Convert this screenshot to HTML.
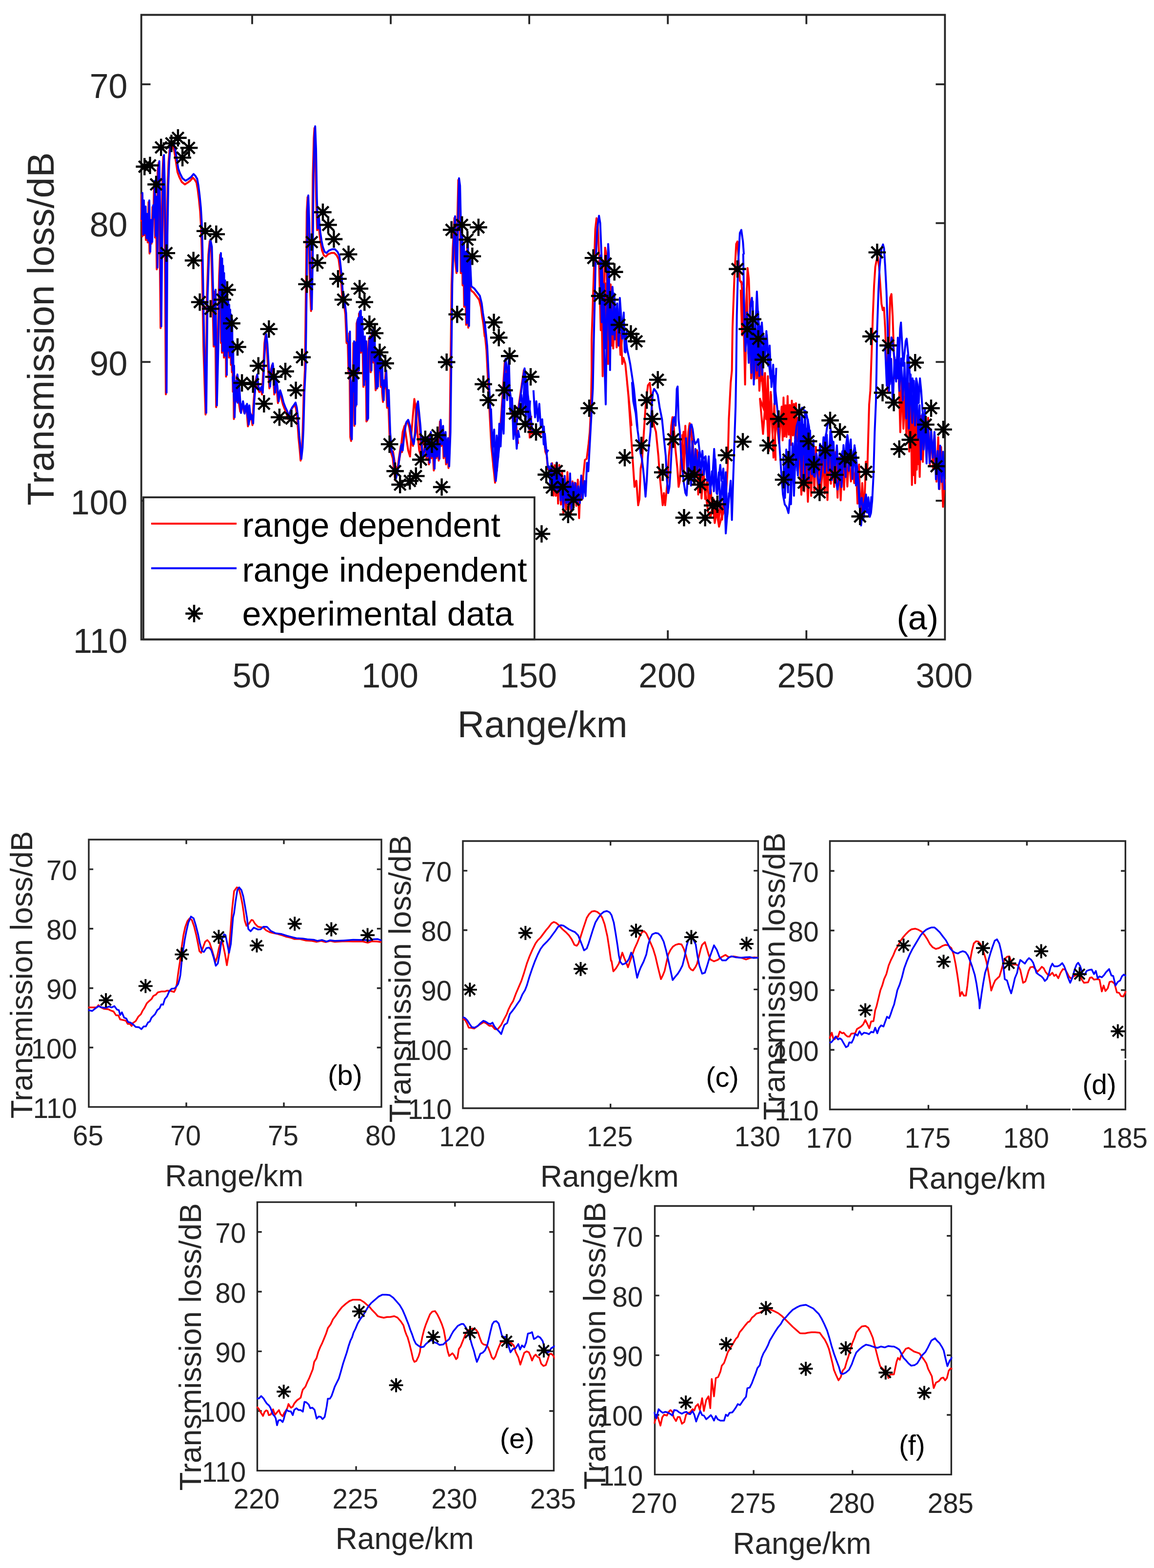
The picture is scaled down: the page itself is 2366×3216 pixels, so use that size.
<!DOCTYPE html><html><head><meta charset="utf-8"><title>Transmission loss</title>
<style>html,body{margin:0;padding:0;background:#fff;}svg{display:block;}text{font-family:"Liberation Sans", Arial, Helvetica, sans-serif;}</style></head><body>
<svg xmlns="http://www.w3.org/2000/svg" width="2366" height="3216" viewBox="0 0 2366 3216">
<rect width="2366" height="3216" fill="#fff"/>
<path d="M289.7 30.5H1937.4V1311.7H289.7ZM289.7 172.9h17M1937.4 172.9h-17M289.7 457.6h17M1937.4 457.6h-17M289.7 742.3h17M1937.4 742.3h-17M289.7 1027h17M1937.4 1027h-17M517 1311.7v-17M517 30.5v17M801.1 1311.7v-17M801.1 30.5v17M1085.1 1311.7v-17M1085.1 30.5v17M1369.2 1311.7v-17M1369.2 30.5v17M1653.3 1311.7v-17M1653.3 30.5v17" fill="none" stroke="#262626" stroke-width="3.8" stroke-linejoin="miter" stroke-linecap="square"/>
<text x="261.5" y="200.5" font-size="70" text-anchor="end" fill="#262626">70</text>
<text x="261.5" y="485.2" font-size="70" text-anchor="end" fill="#262626">80</text>
<text x="261.5" y="769.9" font-size="70" text-anchor="end" fill="#262626">90</text>
<text x="261.5" y="1054.6" font-size="70" text-anchor="end" fill="#262626">100</text>
<text x="261.5" y="1339.4" font-size="70" text-anchor="end" fill="#262626">110</text>
<text x="515.5" y="1409.5" font-size="70" text-anchor="middle" fill="#262626">50</text>
<text x="799.6" y="1409.5" font-size="70" text-anchor="middle" fill="#262626">100</text>
<text x="1083.6" y="1409.5" font-size="70" text-anchor="middle" fill="#262626">150</text>
<text x="1367.7" y="1409.5" font-size="70" text-anchor="middle" fill="#262626">200</text>
<text x="1651.8" y="1409.5" font-size="70" text-anchor="middle" fill="#262626">250</text>
<text x="1935.9" y="1409.5" font-size="70" text-anchor="middle" fill="#262626">300</text>
<text x="1112.2" y="1512.2" font-size="76.5" text-anchor="middle" fill="#262626">Range/km</text>
<text transform="translate(110 1036.7) rotate(-90)" font-size="76.5" fill="#262626">Transmission loss/dB</text>
<text x="1838.4" y="1291.4" font-size="70" fill="#000">(a)</text>
<path d="M182 1722H782V2270.4H182ZM182 1782.9h7.5M782 1782.9h-7.5M182 1904.8h7.5M782 1904.8h-7.5M182 2026.7h7.5M782 2026.7h-7.5M182 2148.5h7.5M782 2148.5h-7.5M382 2270.4v-7.5M382 1722v7.5M582 2270.4v-7.5M582 1722v7.5" fill="none" stroke="#262626" stroke-width="3.4" stroke-linejoin="miter" stroke-linecap="square"/>
<text x="157.9" y="1805.3" font-size="56.5" text-anchor="end" fill="#262626">70</text>
<text x="157.9" y="1927.1" font-size="56.5" text-anchor="end" fill="#262626">80</text>
<text x="157.9" y="2049" font-size="56.5" text-anchor="end" fill="#262626">90</text>
<text x="157.9" y="2170.9" font-size="56.5" text-anchor="end" fill="#262626">100</text>
<text x="157.9" y="2292.7" font-size="56.5" text-anchor="end" fill="#262626">110</text>
<text x="180.5" y="2348.7" font-size="56.5" text-anchor="middle" fill="#262626">65</text>
<text x="380.5" y="2348.7" font-size="56.5" text-anchor="middle" fill="#262626">70</text>
<text x="580.5" y="2348.7" font-size="56.5" text-anchor="middle" fill="#262626">75</text>
<text x="780.5" y="2348.7" font-size="56.5" text-anchor="middle" fill="#262626">80</text>
<text x="480.2" y="2433" font-size="62.3" text-anchor="middle" fill="#262626">Range/km</text>
<text transform="translate(65.9 2294.2) rotate(-90)" font-size="62.3" fill="#262626">Transmission loss/dB</text>
<text x="672" y="2224.6" font-size="58" fill="#000">(b)</text>
<path d="M949 1725H1554.4V2273H949ZM949 1785.9h7.5M1554.4 1785.9h-7.5M949 1907.7h7.5M1554.4 1907.7h-7.5M949 2029.4h7.5M1554.4 2029.4h-7.5M949 2151.2h7.5M1554.4 2151.2h-7.5M1251.7 2273v-7.5M1251.7 1725v7.5" fill="none" stroke="#262626" stroke-width="3.4" stroke-linejoin="miter" stroke-linecap="square"/>
<text x="926.1" y="1808.2" font-size="56.5" text-anchor="end" fill="#262626">70</text>
<text x="926.1" y="1930" font-size="56.5" text-anchor="end" fill="#262626">80</text>
<text x="926.1" y="2051.8" font-size="56.5" text-anchor="end" fill="#262626">90</text>
<text x="926.1" y="2173.5" font-size="56.5" text-anchor="end" fill="#262626">100</text>
<text x="926.1" y="2295.3" font-size="56.5" text-anchor="end" fill="#262626">110</text>
<text x="947.5" y="2351" font-size="56.5" text-anchor="middle" fill="#262626">120</text>
<text x="1250.2" y="2351" font-size="56.5" text-anchor="middle" fill="#262626">125</text>
<text x="1552.9" y="2351" font-size="56.5" text-anchor="middle" fill="#262626">130</text>
<text x="1249.7" y="2434" font-size="62.3" text-anchor="middle" fill="#262626">Range/km</text>
<text transform="translate(841.9 2302.4) rotate(-90)" font-size="62.3" fill="#262626">Transmission loss/dB</text>
<text x="1447.2" y="2229.4" font-size="58" fill="#000">(c)</text>
<path d="M1701.5 1725H2307.4V2275.5H1701.5ZM1701.5 1786.2h7.5M2307.4 1786.2h-7.5M1701.5 1908.5h7.5M2307.4 1908.5h-7.5M1701.5 2030.8h7.5M2307.4 2030.8h-7.5M1701.5 2153.2h7.5M2307.4 2153.2h-7.5M1903.5 2275.5v-7.5M1903.5 1725v7.5M2105.4 2275.5v-7.5M2105.4 1725v7.5" fill="none" stroke="#262626" stroke-width="3.4" stroke-linejoin="miter" stroke-linecap="square"/>
<text x="1678.7" y="1808.5" font-size="56.5" text-anchor="end" fill="#262626">70</text>
<text x="1678.7" y="1930.8" font-size="56.5" text-anchor="end" fill="#262626">80</text>
<text x="1678.7" y="2053.2" font-size="56.5" text-anchor="end" fill="#262626">90</text>
<text x="1678.7" y="2175.5" font-size="56.5" text-anchor="end" fill="#262626">100</text>
<text x="1678.7" y="2297.8" font-size="56.5" text-anchor="end" fill="#262626">110</text>
<text x="1700" y="2353.5" font-size="56.5" text-anchor="middle" fill="#262626">170</text>
<text x="1902" y="2353.5" font-size="56.5" text-anchor="middle" fill="#262626">175</text>
<text x="2103.9" y="2353.5" font-size="56.5" text-anchor="middle" fill="#262626">180</text>
<text x="2305.9" y="2353.5" font-size="56.5" text-anchor="middle" fill="#262626">185</text>
<text x="2003" y="2437.9" font-size="62.3" text-anchor="middle" fill="#262626">Range/km</text>
<text transform="translate(1609 2297.5) rotate(-90)" font-size="62.3" fill="#262626">Transmission loss/dB</text>
<text x="2219.2" y="2244" font-size="57" fill="#000">(d)</text>
<path d="M527.5 2465.6H1135.4V3016.4H527.5ZM527.5 2526.8h7.5M1135.4 2526.8h-7.5M527.5 2649.2h7.5M1135.4 2649.2h-7.5M527.5 2771.6h7.5M1135.4 2771.6h-7.5M527.5 2894h7.5M1135.4 2894h-7.5M730.1 3016.4v-7.5M730.1 2465.6v7.5M932.8 3016.4v-7.5M932.8 2465.6v7.5" fill="none" stroke="#262626" stroke-width="3.4" stroke-linejoin="miter" stroke-linecap="square"/>
<text x="504.1" y="2549.1" font-size="56.5" text-anchor="end" fill="#262626">70</text>
<text x="504.1" y="2671.5" font-size="56.5" text-anchor="end" fill="#262626">80</text>
<text x="504.1" y="2793.9" font-size="56.5" text-anchor="end" fill="#262626">90</text>
<text x="504.1" y="2916.3" font-size="56.5" text-anchor="end" fill="#262626">100</text>
<text x="504.1" y="3038.7" font-size="56.5" text-anchor="end" fill="#262626">110</text>
<text x="526" y="3094.4" font-size="56.5" text-anchor="middle" fill="#262626">220</text>
<text x="728.6" y="3094.4" font-size="56.5" text-anchor="middle" fill="#262626">225</text>
<text x="931.3" y="3094.4" font-size="56.5" text-anchor="middle" fill="#262626">230</text>
<text x="1133.9" y="3094.4" font-size="56.5" text-anchor="middle" fill="#262626">235</text>
<text x="829.8" y="3177" font-size="62.3" text-anchor="middle" fill="#262626">Range/km</text>
<text transform="translate(412 3057.5) rotate(-90)" font-size="62.3" fill="#262626">Transmission loss/dB</text>
<text x="1024.7" y="2970.4" font-size="58" fill="#000">(e)</text>
<path d="M1342.5 2473.5H1950.4V3024.4H1342.5ZM1342.5 2534.7h7.5M1950.4 2534.7h-7.5M1342.5 2657.1h7.5M1950.4 2657.1h-7.5M1342.5 2779.6h7.5M1950.4 2779.6h-7.5M1342.5 2902h7.5M1950.4 2902h-7.5M1545.1 3024.4v-7.5M1545.1 2473.5v7.5M1747.8 3024.4v-7.5M1747.8 2473.5v7.5" fill="none" stroke="#262626" stroke-width="3.4" stroke-linejoin="miter" stroke-linecap="square"/>
<text x="1318.2" y="2557" font-size="56.5" text-anchor="end" fill="#262626">70</text>
<text x="1318.2" y="2679.5" font-size="56.5" text-anchor="end" fill="#262626">80</text>
<text x="1318.2" y="2801.9" font-size="56.5" text-anchor="end" fill="#262626">90</text>
<text x="1318.2" y="2924.3" font-size="56.5" text-anchor="end" fill="#262626">100</text>
<text x="1318.2" y="3046.7" font-size="56.5" text-anchor="end" fill="#262626">110</text>
<text x="1341" y="3103.4" font-size="56.5" text-anchor="middle" fill="#262626">270</text>
<text x="1543.6" y="3103.4" font-size="56.5" text-anchor="middle" fill="#262626">275</text>
<text x="1746.3" y="3103.4" font-size="56.5" text-anchor="middle" fill="#262626">280</text>
<text x="1948.9" y="3103.4" font-size="56.5" text-anchor="middle" fill="#262626">285</text>
<text x="1644.4" y="3187.2" font-size="62.3" text-anchor="middle" fill="#262626">Range/km</text>
<text transform="translate(1241 3055.2) rotate(-90)" font-size="62.3" fill="#262626">Transmission loss/dB</text>
<text x="1842.9" y="2983.6" font-size="57" fill="#000">(f)</text>
<rect x="2194.9" y="2272" width="3.2" height="7" fill="#fff"/>
<rect x="2304" y="2170.9" width="6" height="3.3" fill="#fff"/>
<clipPath id="clipa"><rect x="287.7" y="28.5" width="1651.7" height="1285.2"/></clipPath>
<polyline clip-path="url(#clipa)" points="289.3,454.5 290.5,399.3 292,484.7 293.5,414.4 295.3,482.2 297,426.9 299.1,492.2 301.1,442 302.8,497.3 304.6,414.4 306.6,519.9 308.6,454.5 310.6,499.8 312.6,424.4 314.4,449.5 316.1,374.2 317.9,487.2 319.6,406.8 321.4,552.5 323.2,351.6 325.2,334 326.9,454.5 329.2,673.1 331.2,484.7 333,359.1 334.7,321.4 336.5,389.2 338.2,534.9 340,808.7 341.8,484.7 343.5,384.2 345.5,334 347.5,308.9 350,300.1 353.8,295.2 357.6,311.6 361.3,335.5 363.9,353 367.6,363.1 372.6,373.1 378.9,378.2 385.2,374.4 390.2,370.6 395.3,364.4 399,368.1 402.8,374.4 405.3,388.2 407.8,408.3 410.3,433.4 412.1,463.6 413.6,513.1 415.4,612.4 417.1,711.7 421.4,850.2 424.1,610.3 427.2,522.4 429.9,494.7 432.9,509.8 435.4,597.7 438,710.8 440.5,597.7 443.2,835.1 446.8,685.6 449.3,565.1 451.3,522.4 451.5,523.5 453,703.5 454,533.5 455,723.5 456,548.5 457,693.5 458,563.5 459,733.5 460,578.5 461,703.5 462,593.5 463.5,772.5 464.5,603.5 465.5,723.5 466.5,618.5 467.5,703.5 468.5,628.5 469.5,733.5 470.5,638.5 471.5,713.5 472.5,648.5 473.5,748.5 474.5,658.5 475.5,763.5 476.5,703.5 477.5,803.5 478.5,753.5 479.5,859.5 481.4,804.1 483.2,824.2 485.2,771.4 486.9,784 489.5,824.2 492.5,844.3 494.5,834.2 497,829.2 500.8,846.8 505,831.7 508.3,874.4 512.1,851.8 515.8,859.3 517.6,871.9 519.6,829.2 522.6,791.5 525.9,771.4 528.4,796.5 531.7,804.1 534.7,796.5 537.2,809.1 539.7,758.9 542.2,703.6 544.2,688.5 546.7,708.6 549.7,758.9 552.3,796.5 555.3,758.9 557.8,748.8 560.3,771.4 562.3,809.1 564.8,779 567.3,796.5 569.8,826.7 572.9,804.1 576.1,814.1 579.9,829.2 583.7,839.2 587.4,846.8 589.9,859.3 593.7,846.8 597.5,839.2 601.2,834.2 604.5,829.2 607,839.2 609.5,859.3 612,897 614.5,922.1 616.3,944.7 618.8,922.1 620.6,884.5 622.6,809.1 625.1,758.9 626.4,660.5 627.6,560.1 628.9,434.5 630.6,404.3 632.6,459.6 634.6,560.1 637.7,637.9 639.7,534.9 641.4,359.1 643.4,283.7 644.7,262.4 646.5,308.9 648.2,409.3 650.2,472.1 652.2,447 655.2,480.8 657.8,500.1 660.3,513.8 664,523.9 667.8,526.4 672.8,521.3 679.1,518.8 685.4,518.8 690.4,523.9 694.2,531.4 696.7,550 699.2,573.5 701.7,610.3 703.1,605.5 708.1,645.5 710.5,703.5 713.1,705.5 714.5,763.5 716,683.5 718.2,896.5 719.9,904.5 721.5,783.5 723.2,806.5 724.5,703.5 726.5,873.5 728.2,705.5 729.5,833.5 731.2,663.5 733.2,655.5 734.5,763.5 736,643.5 738.3,640.5 739.5,723.5 741,653.5 743.3,705.5 745,793.5 746.5,693.5 748.3,781.5 749.5,703.5 751.3,864.5 753.3,861.5 754.5,723.5 756.5,693.5 758.4,705.5 760,763.5 761.5,683.5 763.4,680.5 765,743.5 766.5,693.5 768.4,756.5 770.1,800.5 771.5,723.5 773.4,796.5 775,733.5 776.5,763.5 778.5,731.5 780.5,793.5 782,743.5 783.5,806.5 785.2,824.5 786.5,783.5 788.5,796.5 790.5,763.5 793.6,836.5 795.5,803.5 798.6,891.5 801.5,927.3 805.3,939.8 806.5,952.4 810.3,985 814,970 817.8,939.8 821.6,914.7 824.1,927.3 827.9,889.6 831.6,869.5 835.4,864.5 839.2,877 842.9,902.1 846.7,914.7 850.5,889.6 853,839.3 855.5,826.8 858,851.9 860.5,877 863,914.7 865.5,939.8 869.3,927.3 871.8,902.1 874.3,939.8 876.8,902.1 879.4,952.4 881.9,889.6 884.4,939.8 886.9,914.7 889.4,964.9 891.9,902.1 894.4,939.8 896.9,914.7 899.5,944.8 902,864.5 904.5,914.7 907,877 909.5,939.8 912,889.6 914.5,952.4 917,902.1 919.5,959.9 922.1,889.6 923.3,789.1 924.6,688.6 925.8,585.2 928.3,509.8 929.6,484.7 931.6,447 933.4,534.9 935.9,560.1 937.6,459.6 939.6,369.1 941.7,384.2 943.4,459.6 944.7,560.1 945.9,484.7 947.2,509.8 948.4,585.2 949.7,534.9 949.7,501.8 951.6,629.2 953.5,519.7 955.7,666.2 957.9,501.6 960.1,672.1 962,530 964.8,593.4 967.3,597.2 971,599.7 974.8,604.7 978.6,609.8 982.3,614.8 986.1,629.9 988.6,650 991.1,665 993.7,690.1 992.4,668 997.4,718.2 999.9,768.5 1002.4,818.7 1007.5,917 1015,990.1 1025.1,889.6 1035.1,738.9 1055.2,889.6 1074,759 1090.4,889.6 1110.5,889.6" fill="none" stroke="#ff0000" stroke-width="4" stroke-linejoin="round"/>
<polyline clip-path="url(#clipa)" points="1115,889 1118,926 1120.9,934 1123.2,962.4 1126.2,961.6 1129.3,996.4 1132,949.9 1134.9,1016.6 1137.2,954.1 1139.6,1017 1141.8,949.5 1144.2,1032.9 1146.8,953.6 1150,1034.8 1152.4,965.6 1155,1052.9 1157.3,991.4 1160.6,1045.2 1163.4,968.3 1165.7,1045.3 1168.2,993.4 1170.6,1052.3 1173.8,987.2 1176.2,1038.1 1178.5,989.9 1181.7,1037.5 1184.7,983.7 1187.3,1062.8 1190.4,987.1 1193.5,1024.6 1195.9,975.8 1199.2,943.4 1202.9,940.9 1206.7,910.7 1209.2,885.6 1211.7,835.4 1213,760 1213,696.3 1215.5,621 1218,545.6 1220.5,470.2 1223,447.6 1225.5,457.7 1228.1,520.5 1230.6,545.6 1233.1,595.8 1235.6,771.7 1238.1,621 1240.6,507.9 1243.1,520.5 1245.6,646.1 1246.9,746.6 1249.4,595.8 1251.9,583.3 1254.4,708.9 1256.9,646.1 1260.7,671.2 1264.5,658.6 1268.3,671.2 1270.8,708.9 1273.3,683.8 1275.8,746.6 1278.3,734 1282.1,746.6 1284.6,771.7 1287.1,796.8 1289.6,821.9 1292.1,847 1294.6,872.1 1285.8,785.1 1288.3,810.2 1290.9,847.9 1293.4,885.6 1295.9,923.3 1298.4,961 1300.9,998.6 1304.7,986.1 1308.4,1036.3 1311,1023.8 1313.5,961 1316,948.4 1318.5,910.7 1321,873 1323.5,835.4 1326,810.2 1328.5,790.1 1332.3,785.1 1334.8,810.2 1337.3,847.9 1341.1,873 1344.9,885.6 1347.4,910.7 1349.9,935.8 1352.4,973.5 1354.9,998.6 1358.7,1036.3 1361.2,1011.2 1363.7,1036.3 1366.2,1011.2 1368.7,986.1 1371.2,935.8 1373.8,910.7 1376.3,873 1378.8,855.5 1381.3,873 1383.8,910.7 1386.3,935.8 1388.8,961 1391.3,998.6 1393.8,986.1 1396.4,935.8 1398.9,910.7 1401.4,885.6 1403.9,898.2 1406.4,923.3 1408.9,935.8 1411.4,885.6 1413.9,868 1416.5,873 1419,910.7 1421.5,935.8 1424,961 1426.5,935.8 1429,923.3 1431.5,935.8 1434,948.4 1436.6,961 1439.1,973.5 1441.6,986.1 1446.6,1011.2 1451.6,1048.9 1456.6,1061.4 1461.7,1036.3 1465.4,1072.7 1469.2,1048.9 1474.2,1080.3 1479.3,1061.4 1484.3,1048.9 1488,1023.8 1491.8,961 1494.3,860.5 1498.1,785.1 1500.6,760 1501.9,671.2 1505.6,570.7 1509.4,500.4 1511.9,495.4 1514.4,533 1516.9,575.7 1522,583.3 1520,577.6 1522.5,610.7 1525.1,674.3 1527.6,788.7 1530.2,623.4 1532.7,549.7 1535.3,572.6 1537.8,648.8 1540.3,776 1542.9,750.5 1545.4,674.3 1549.2,737.8 1551.8,776 1554.3,712.4 1556.9,801.4 1559.4,763.2 1562,776 1564.5,801.4 1567,826.8 1570.9,852.2 1558.1,817.9 1564.4,890 1570.5,806.9 1576.2,925.1 1580.7,809.2 1585.8,938.6 1591.8,857.7 1597.3,909.8 1602.6,833.9 1604.6,903.2 1606.4,815.2 1608.2,894.9 1610.5,831.2 1612.5,896.2 1614.8,812.2 1617,891.4 1619.2,830.4 1621.3,912.7 1623.5,821.8 1625.8,892.9 1627.8,828.4 1630.2,900.2 1631.9,826.9 1633.7,905 1636,857.1 1639.5,942.5 1643,1014.7 1646.4,928.5 1649,1007.7 1652.6,937.2 1656.4,1029.2 1660.2,940 1663.1,1017.1 1666.2,917.5 1669.6,1009.6 1672.8,916.7 1676.6,1003.7 1679.9,933.4 1683.7,1003.7 1687.6,936.6 1690.9,1012.2 1693.6,938.4 1696.5,1025.6 1700.2,921.5 1703.5,992.2 1706.8,926.8 1710.2,998.8 1713.9,926.7 1717.2,1020.8 1720.3,938.5 1723.6,1026.2 1727.2,941.2 1730.5,1004.4 1733.8,928.3 1737.3,997.9 1740.7,933.7 1744.6,987.6 1748.4,951.4 1751.4,990.9 1755.2,958.4 1758.1,1032.8 1761.3,952.7 1764.3,1069.1 1767.8,990.7 1771.6,1058.7 1775.2,946.8 1778,972.3 1782,829.9 1784.4,801.4 1787,725.1 1789.5,648.8 1792.1,585.3 1794.6,547.1 1797.1,534.4 1799.7,526.8 1802.2,547.1 1804.8,585.3 1807.3,623.4 1809.9,636.1 1812.4,631 1814.9,674.3 1817.5,750.5 1820,801.4 1822.6,699.7 1825.1,610.7 1827.7,603.1 1830.2,648.8 1832.7,725.1 1835.3,776 1837.8,750.5 1840.4,725.1 1842.9,776 1845.5,826.8 1848,801.4 1850.5,839.5 1853.1,814.1 1855.6,852.2 1858.2,826.8 1860.7,865 1863.2,880 1863.2,786.4 1866.5,888.9 1870.3,816.3 1873.5,974.4 1876.6,844.6 1879.7,963.4 1882.3,844.6 1885.6,978.1 1888.6,853.1 1892,947.3 1895.9,867.5 1899.8,938.4 1902.8,856.8 1906.5,955.3 1909.3,884.1 1913.2,960.7 1916.2,892 1920,987.8 1923.6,896.7 1926.3,1003.3 1929.5,916.8 1933.4,1039.5 1937.1,983.4" fill="none" stroke="#ff0000" stroke-width="4" stroke-linejoin="round"/>
<polyline clip-path="url(#clipa)" points="1518.7,594.3 1521.5,687.6 1524.8,599.1 1528.2,747.3 1531,591.5 1534.4,725.1 1537.7,672.3 1540.3,776.3 1543.3,689.5 1547,777.7 1549.8,675.9 1552.9,758.8 1555.7,707.8 1559.1,781.4 1562.5,729.6 1565.4,830.2 1568.4,764.9 1571,859.7 1574.4,771.6 1577,896.9 1580.2,803.8 1583.9,889.5 1587.6,827.4 1590.2,944.9" fill="none" stroke="#ff0000" stroke-width="4" stroke-linejoin="round"/>
<polyline clip-path="url(#clipa)" points="1842.8,770.3 1845.8,886.4 1848.8,780.2 1852.2,879.3 1855.7,799.8 1858.4,894.8 1861.2,807.3 1864.2,926.1 1866.9,798.3 1869.7,994.7 1873.3,839.6 1876.2,991.2 1880,845.1 1882.7,952 1886,884.3" fill="none" stroke="#ff0000" stroke-width="4" stroke-linejoin="round"/>
<polyline clip-path="url(#clipa)" points="1008.1,893 1011.9,961.4 1015.7,920.1 1018.8,965.8 1021.7,908.2" fill="none" stroke="#ff0000" stroke-width="4" stroke-linejoin="round"/>
<polyline clip-path="url(#clipa)" points="1052.3,851.4 1055.4,885.9 1058.7,874.8 1062.3,910.4" fill="none" stroke="#ff0000" stroke-width="4" stroke-linejoin="round"/>
<polyline clip-path="url(#clipa)" points="1082.6,821.6 1086.1,897.6 1089.2,852.8" fill="none" stroke="#ff0000" stroke-width="4" stroke-linejoin="round"/>
<polyline clip-path="url(#clipa)" points="1228.1,533.9 1231.7,677.2 1234.8,543.9 1238.1,714.7 1241.2,581.2 1244.3,699.1 1247.8,579.9 1250.8,712.9 1254.4,622.1 1257.3,714.7 1261.1,637.1 1264.3,712.6 1268.5,661.2 1272.1,727.9 1275.5,693.3" fill="none" stroke="#ff0000" stroke-width="4" stroke-linejoin="round"/>
<polyline clip-path="url(#clipa)" points="1398.9,890.6 1402,971.4 1405.1,873.3 1409.1,973.2 1413.1,893.9 1417.2,980.2 1420.2,899.9 1423.8,988.2 1427.9,925.4 1431.6,1014.3 1435.1,948.6 1438.3,1022.4 1442.4,963.3 1445.9,1023.6 1450.1,980.7 1453.1,1032 1457.3,1002.6 1460.2,1046.6 1463.5,1024 1467.2,1055.4 1470.3,1026.5 1473.4,1069 1477.4,1029.6 1480.5,1065.8 1483.8,1021.1" fill="none" stroke="#ff0000" stroke-width="4" stroke-linejoin="round"/>
<polyline clip-path="url(#clipa)" points="805.5,923.8 810.5,956.4 815.5,961.4 820.6,931.3 825.6,886.1 829.4,873.5 833.1,898.6 836.9,923.8 840.7,936.3 843.7,886.1 846.9,848.4 849.5,818.3 852,835.8 855.7,886.1 859.5,923.8 863.3,936.3 867,898.6 870.8,911.2" fill="none" stroke="#ff0000" stroke-width="4" stroke-linejoin="round"/>
<polyline clip-path="url(#clipa)" points="290.8,451 292,395.8 293.5,481.2 295,410.9 296.8,478.7 298.5,423.4 300.6,488.7 302.6,438.5 304.3,493.8 306.1,410.9 308.1,516.4 310.1,451 312.1,496.3 314.1,420.9 315.9,446 317.6,370.7 319.4,483.7 321.1,403.3 322.9,549 324.7,348.1 326.7,330.5 328.4,451 330.7,669.6 332.7,481.2 334.5,355.6 336.2,317.9 338,385.7 339.7,531.4 341.5,805.2 343.3,481.2 345,380.7 347,330.5 349,305.4 351.5,296.6 355.3,291.5 359.1,305.4 362.8,328 365.4,345.5 369.1,355.6 374.1,365.6 380.4,370.7 386.7,366.9 391.7,363.1 396.8,356.9 400.5,360.6 404.3,366.9 406.8,380.7 409.3,400.8 411.8,425.9 413.6,456.1 415.1,506.3 416.9,606.8 418.6,707.3 422.9,846.7 425.6,606.8 428.7,518.9 431.4,491.2 434.4,506.3 436.9,594.2 439.5,707.3 442,594.2 444.7,831.6 448.3,682.1 450.8,561.6 452.8,518.9 453,520 454.5,700 455.5,530 456.5,720 457.5,545 458.5,690 459.5,560 460.5,730 461.5,575 462.5,700 463.5,590 465,769 466,600 467,720 468,615 469,700 470,625 471,730 472,635 473,710 474,645 475,745 476,655 477,760 478,700 479,800 480,750 481,856 482.9,800.6 484.7,820.7 486.7,767.9 488.4,780.5 491,820.7 494,840.8 496,830.7 498.5,825.7 502.3,843.3 506.5,828.2 509.8,870.9 513.6,848.3 517.3,855.8 519.1,868.4 521.1,825.7 524.1,788 527.4,767.9 529.9,793 533.2,800.6 536.2,793 538.7,805.6 541.2,755.4 543.7,700.1 545.7,685 548.2,705.1 551.2,755.4 553.8,793 556.8,755.4 559.3,745.3 561.8,767.9 563.8,805.6 566.3,775.5 568.8,793 571.3,823.2 574.4,800.6 577.6,810.6 581.4,825.7 585.2,835.7 588.9,843.3 591.4,855.8 595.2,843.3 599,835.7 602.7,830.7 606,825.7 608.5,835.7 611,855.8 613.5,893.5 616,918.6 617.8,941.2 620.3,918.6 622.1,881 624.1,805.6 626.6,755.4 627.9,657 629.1,556.6 630.4,431 632.1,400.8 634.1,456.1 636.1,556.6 639.2,634.4 641.2,531.4 642.9,355.6 644.9,280.2 646.2,258.9 648,305.4 649.7,405.8 651.7,468.6 653.7,443.5 656.7,476.2 659.3,493.8 661.8,506.3 665.5,516.4 669.3,518.9 674.3,513.8 680.6,511.3 686.9,511.3 691.9,516.4 695.7,523.9 698.2,544 700.7,569.1 703.2,606.8 704.6,602 709.6,642 712,700 714.6,702 716,760 717.5,680 719.7,893 721.4,901 723,780 724.7,803 726,700 728,870 729.7,702 731,830 732.7,660 734.7,652 736,760 737.5,640 739.8,637 741,720 742.5,650 744.8,702 746.5,790 748,690 749.8,778 751,700 752.8,861 754.8,858 756,720 758,690 759.9,702 761.5,760 763,680 764.9,677 766.5,740 768,690 769.9,753 771.6,797 773,720 774.9,793 776.5,730 778,760 780,728 782,790 783.5,740 785,803 786.7,821 788,780 790,793 792,760 795.1,833 797,800 800.1,888 803,923.8 806.8,936.3 808,948.9 811.8,981.5 815.5,966.5 819.3,936.3 823.1,911.2 825.6,923.8 829.4,886.1 833.1,866 836.9,861 840.7,873.5 844.4,898.6 848.2,911.2 852,886.1 854.5,835.8 857,823.3 859.5,848.4 862,873.5 864.5,911.2 867,936.3 870.8,923.8 873.3,898.6 875.8,936.3 878.3,898.6 880.9,948.9 883.4,886.1 885.9,936.3 888.4,911.2 890.9,961.4 893.4,898.6 895.9,936.3 898.4,911.2 901,941.3 903.5,861 906,911.2 908.5,873.5 911,936.3 913.5,886.1 916,948.9 918.5,898.6 921,956.4 923.6,886.1 924.8,785.6 926.1,685.1 927.3,581.7 929.8,506.3 931.1,481.2 933.1,443.5 934.9,531.4 937.4,556.6 939.1,456.1 941.1,365.6 943.2,380.7 944.9,456.1 946.2,556.6 947.4,481.2 948.7,506.3 949.9,581.7 951.2,531.4 951.2,498.3 953.1,625.7 955,516.2 957.2,662.7 959.4,498.1 961.6,668.6 963.5,525.4 966.3,586.7 968.8,589.2 972.5,591.7 976.3,596.7 980.1,601.8 983.8,606.8 987.6,621.9 990.1,642 992.6,657 995.2,682.1 993.9,660 998.9,710.2 1001.4,760.5 1003.9,810.7 1009,911.2 1016.5,986.6 1026.6,886.1 1036.6,735.4 1056.7,886.1 1075.5,755.5 1091.9,886.1 1112,886.1 1115,874.7 1117.5,917.4 1120.7,929.4 1123.4,958.1 1125.6,956.7 1128.2,991.3 1130.5,950.7 1133.6,1003.6 1136.5,961.2 1139.1,1004.2 1141.4,948.5 1143.8,1007.9 1146.5,959.2 1149.4,1026.5 1151.9,979.1 1154.9,1042.9 1157.7,976 1160.9,1031.6 1163.4,994 1165.8,1038.2 1168.8,971 1171.6,1045.3 1174.5,990.3 1177.4,1022.6 1179.9,991 1182.8,1032.8 1185.5,997.3 1188.8,1031.9 1191.7,975.3 1194.7,1022.2 1198,986.6 1200.5,1017.7 1203.5,949.2 1206.2,966.6 1215.5,796.8 1217.5,696.3 1219.3,621 1221,545.6 1224.3,470.2 1228.1,442.6 1230.6,457.7 1233.1,520.5 1234.8,570.7 1236.9,646.1 1239.4,746.6 1241.9,829.4 1244.4,646.1 1246.9,500.4 1248.2,520.5 1249.4,621 1250.7,759.1 1252.7,621 1255.7,588.3 1258.2,621 1260.2,696.3 1262,646.1 1265.7,633.5 1268.3,708.9 1270.8,610.9 1273.3,646.1 1275.8,683.8 1278.8,641 1280.8,721.4 1283.3,696.3 1285.8,716.4 1289.6,734 1292.1,746.6 1295.9,771.7 1299.7,796.8 1302.2,821.9 1304.7,847 1307.2,879.9 1295.9,785.1 1298.4,822.8 1300.9,835.4 1303.4,847.9 1305.9,873 1308.4,890.6 1311,910.7 1313.5,930.8 1316,940.9 1318.5,961 1321,986.1 1323.5,1018.7 1326,986.1 1328.5,935.8 1331,910.7 1333.6,885.6 1336.1,835.4 1338.6,805.2 1341.1,797.7 1344.9,802.7 1348.6,810.2 1352.4,835.4 1354.9,847.9 1357.4,860.5 1359.9,885.6 1362.4,910.7 1365,935.8 1367.5,986.1 1370,1011.2 1372.5,998.6 1375,961 1377.5,910.7 1380,860.5 1382.5,855.5 1385.1,873 1387.6,797.7 1389.3,792.7 1391.3,860.5 1393.8,885.6 1396.4,935.8 1398.9,961 1401.4,986.1 1405.2,1011.2 1407.7,1016.2 1410.2,973.5 1412.7,910.7 1415.2,873 1417.7,870.5 1420.2,880.6 1422.7,900.7 1425.2,910.7 1429,905.7 1431.5,900.7 1434,923.3 1436.6,935.8 1441.6,940.9 1446.6,935.8 1449.1,961 1452.9,981 1456.6,998.6 1460.4,986.1 1464.2,920.8 1466.7,961 1469.2,1011.2 1473,986.1 1476.7,953.4 1479.3,986.1 1483,961 1485.5,1011.2 1488,1094.1 1490.6,1061.4 1493.1,1036.3 1495.6,1011.2 1498.1,986.1 1500.6,1066.5 1503.1,986.1 1505.6,910.7 1508.1,835.4 1509.4,760 1510.7,646.1 1513.2,545.6 1516.9,477.8 1519.9,471.5 1523.2,495.4 1525,520.5 1523.8,521.7 1525.1,598 1526.4,674.3 1528.9,712.4 1531.4,687 1534,699.7 1536.5,661.5 1539.1,623.4 1541.6,610.7 1544.2,648.8 1545.4,788.7 1548,699.7 1551.8,598 1554.3,648.8 1556.9,674.3 1559.4,687 1562,661.5 1564.5,699.7 1567,737.8 1569.6,699.7 1572.1,687 1574.7,725.1 1577.2,750.5 1579.8,776 1582.3,763.2 1584.8,776 1587.4,770.9 1589.9,801.4 1592.5,826.8 1595,852.2 1596.3,887.1 1601.4,963.4 1605.2,1014.3 1609,1034.6 1612.8,1039.7 1616.6,1052.4 1619.2,1027 1621.7,988.8 1625.5,950.7 1629.3,912.6 1633.1,874.4 1637,861.7 1640.8,841.4 1644.6,836.3 1648.4,841.4 1652.2,843.9 1656,861.7 1658.6,874.4 1661.1,899.8 1663.7,925.3 1666.2,950.7 1668.7,976.1 1671.3,963.4 1673.8,950.7 1676.4,976.1 1678.9,993.9 1681.5,983.7 1684,963.4 1686.5,925.3 1689.1,912.6 1691.6,899.8 1694.2,887.1 1696.7,869.3 1699.3,861.7 1701.8,874.4 1704.3,887.1 1706.9,912.6 1709.4,938 1712,963.4 1714.5,988.8 1717.1,1004.1 1719.6,988.8 1722.1,963.4 1724.7,938 1727.2,925.3 1729.8,938 1732.3,963.4 1734.8,912.6 1737.4,892.2 1739.9,912.6 1742.5,938 1745,950.7 1747.6,938 1750.1,925.3 1752.6,917.6 1755.2,938 1757.7,963.4 1760.3,988.8 1762.8,1039.7 1765.4,1077.8 1767.9,1052.4 1770.4,1039.7 1773,1027 1775.5,1014.3 1778.1,1039.7 1780.6,1052.4 1783.2,1060 1785.7,1052.4 1788.2,1027 1790.8,976.1 1793.3,887.1 1795.9,823.6 1797.1,760 1798.4,674.3 1801,598 1803.5,547.1 1807.3,509 1810.4,501.4 1812.4,509 1814.9,547.1 1817.5,598 1820,674.3 1822.6,801.4 1825.1,725.1 1827.7,692.1 1830.2,699.7 1832.7,725.1 1835.3,750.5 1837.8,737.8 1840.4,776 1842.9,750.5 1845.5,674.3 1847.2,661.5 1849.3,699.7 1851.8,750.5 1854.4,725.1 1856.9,699.7 1858.9,694.6 1860.7,712.4 1863.2,737.8 1865.8,776 1868.3,814.1 1870.9,776 1873.4,801.4 1876,826.8 1878.5,776 1881,788.7 1883.6,826.8 1886.1,776 1888.7,801.4 1891.2,839.5 1893.8,865 1896.3,880 1896.3,838.1 1899.7,950.6 1902.4,864.4 1905.9,949.8 1908.9,880.4 1912.4,938.8 1915.9,885.7 1918.9,983.1 1922.4,924.9 1925,1002.9 1927.7,914 1930.8,988.6 1933.5,926.6 1936.5,1004.9" fill="none" stroke="#0000ff" stroke-width="4" stroke-linejoin="round"/>
<polyline clip-path="url(#clipa)" points="1524.9,609.9 1528.5,720 1531.4,640.8 1535.1,744.1 1537.7,648.2 1540.5,764.7 1543.2,618.2 1545.9,765.3 1548.8,656.9 1551.7,760.1 1554.4,638.9 1556.9,771.1 1559.4,669.6 1562.6,768.8 1565.7,688.3 1568.3,737.1 1571.3,679.1 1574.9,750.4 1578,708.8 1581.7,793.8 1585.2,747.9 1588.5,828.9 1591.5,754.5" fill="none" stroke="#0000ff" stroke-width="4" stroke-linejoin="round"/>
<polyline clip-path="url(#clipa)" points="1606,935.8 1609.4,1021.2 1612.1,922 1615.6,1010 1618.9,902.5 1621.7,1034.3 1624.8,909.3 1627.8,1016.8 1631.5,918.4 1634.7,965.3 1638.4,849.8 1641.3,942.7 1644.3,850.4 1647.4,931.3 1650.6,844.2 1653.4,954.4 1656.4,860.4 1658.9,970.8 1661.7,904.7" fill="none" stroke="#0000ff" stroke-width="4" stroke-linejoin="round"/>
<polyline clip-path="url(#clipa)" points="1814.7,710.2 1818.1,791.2 1821.6,706.6 1824.5,787.9 1827.2,736 1830.5,830.3 1834,733 1837.3,782.6 1840.8,692.5 1844,801.8 1847.5,735.3 1851,820.9 1854.6,744 1858,858.4 1860.5,728.7 1863.5,878.9 1867,768.1 1870.3,867.5 1873.6,780.9 1876.1,872.7 1879.5,799 1882.7,898.4 1885.3,831.1 1888.1,942.5 1890.9,849.3 1893.7,922.1 1897.4,857.6" fill="none" stroke="#0000ff" stroke-width="4" stroke-linejoin="round"/>
<polyline clip-path="url(#clipa)" points="1006.7,837.9 1010,918.3 1013.2,880.9 1015.7,970.6 1018.4,893.3 1021.2,938.7 1023.7,869 1026.4,915.6 1029.7,841.5 1032.5,889.5 1035.5,774.9" fill="none" stroke="#0000ff" stroke-width="4" stroke-linejoin="round"/>
<polyline clip-path="url(#clipa)" points="1037.1,764.7 1039.8,820.7 1043.3,735 1046.3,844.3 1049.9,816.6 1052.7,900.4 1056.3,867.7 1059.4,920.3 1062.5,883.5 1065,897.9" fill="none" stroke="#0000ff" stroke-width="4" stroke-linejoin="round"/>
<polyline clip-path="url(#clipa)" points="1068.8,808.6 1072.1,848.9 1075.6,770.8 1078.1,863.3 1081.1,781.9 1083.9,879.3 1086.8,821.3" fill="none" stroke="#0000ff" stroke-width="4" stroke-linejoin="round"/>
<polyline clip-path="url(#clipa)" points="1093.7,800.4 1097,856 1099.6,822.9 1102.9,863.9 1105.7,828.3 1108.6,874.1 1111.7,860 1114.7,911.5 1117.1,889.5 1120.6,929 1124.2,922.6" fill="none" stroke="#0000ff" stroke-width="4" stroke-linejoin="round"/>
<polyline clip-path="url(#clipa)" points="1230.6,522.3 1233.7,660.9 1237.8,582.5 1241.8,714.6 1245.9,607.7 1249.5,697.5 1252.3,601.7 1255.8,686.2 1259.5,602.2 1262.4,673.3 1265.4,622.3 1268.7,698.8 1272.5,650 1275.7,694.7 1278.9,658.6 1282.3,722.9 1285.4,673.9" fill="none" stroke="#0000ff" stroke-width="4" stroke-linejoin="round"/>
<polyline clip-path="url(#clipa)" points="1406.4,897.1 1409.5,967.3 1413.7,902.8 1416.8,996 1419.7,905.1 1422.6,990.9 1425.8,920.7 1429.9,971 1433.3,927.2 1436.8,978.3 1440.1,924.8 1443.3,973.7 1446.3,937.8 1450,986.2 1453.1,936 1456.3,1012.2 1459.7,966.8 1463.7,1007.7 1466.6,941.9 1470.4,1013.5 1473.9,968.7 1476.7,1041.8 1480.8,987.8 1484.8,1039.2 1488,968.5 1491,1058.6 1494.8,1010.5" fill="none" stroke="#0000ff" stroke-width="4" stroke-linejoin="round"/>
<polyline clip-path="url(#clipa)" points="1631.9,893.4 1635.8,975.4 1639.4,851.1 1643.4,979.8 1647.6,871.3 1650.8,982.3 1654,879.2 1657.9,983.5 1660.8,882.9 1664.5,972.5 1667.7,902.4 1670.5,978.3 1674,930.2 1677.8,965.1 1681.3,910.3 1684.5,957.4 1688.4,896.8 1691.3,969.6 1695.1,891.5 1698.3,965.6 1702.5,884.1 1705.4,984.4 1708.8,906.1 1711.9,970.1 1715.8,913.4 1719,971.1 1722.3,938.1 1725.4,998.9 1729.4,912.8 1733.6,978.3 1736.7,898.3 1740.1,965.7 1744.3,901.3 1747.7,982.4 1752,913.3 1754.9,995.7 1758.3,971.1 1762.4,1040.8 1766.7,1021.1 1770,1066.1 1774.2,1027.4 1777.1,1051.1 1780.4,1020.1 1783.8,1053.2 1786.6,1018" fill="none" stroke="#0000ff" stroke-width="4" stroke-linejoin="round"/>
<polyline clip-path="url(#clipa)" points="477.1,772.2 480.1,823.5 483.2,781.8 487.2,826.1 490.6,792.3 494.1,847 498.2,822.9 501.5,848.3 504.4,831.4 508.3,857 511.2,831.5 514.1,859.9 517.3,850.4" fill="none" stroke="#0000ff" stroke-width="4" stroke-linejoin="round"/>
<path d="M278.5 341.8h35.6M296.3 324v35.6M284.5 330l23.6 23.6M284.5 353.6l23.6 -23.6M289.8 339.3h35.6M307.6 321.5v35.6M295.8 327.5l23.6 23.6M295.8 351.1l23.6 -23.6M302.3 378.2h35.6M320.1 360.4v35.6M308.3 366.4l23.6 23.6M308.3 390l23.6 -23.6M312.4 302.3h35.6M330.2 284.5v35.6M318.4 290.5l23.6 23.6M318.4 314.1l23.6 -23.6M333.7 294.1h35.6M351.5 276.3v35.6M339.7 282.3l23.6 23.6M339.7 305.9l23.6 -23.6M347.1 282.8h35.6M364.9 265v35.6M353.1 271l23.6 23.6M353.1 294.6l23.6 -23.6M369.7 303.3h35.6M387.5 285.5v35.6M375.7 291.5l23.6 23.6M375.7 315.1l23.6 -23.6M356.3 323.4h35.6M374.1 305.6v35.6M362.3 311.6l23.6 23.6M362.3 335.2l23.6 -23.6M323.5 519.1h35.6M341.3 501.3v35.6M329.5 507.3l23.6 23.6M329.5 530.9l23.6 -23.6M378.8 534.2h35.6M396.6 516.4v35.6M384.8 522.4l23.6 23.6M384.8 546l23.6 -23.6M402.9 473.9h35.6M420.7 456.1v35.6M408.9 462.1l23.6 23.6M408.9 485.7l23.6 -23.6M425.5 480.4h35.6M443.3 462.6v35.6M431.5 468.6l23.6 23.6M431.5 492.2l23.6 -23.6M391.8 619.6h35.6M409.6 601.8v35.6M397.8 607.8l23.6 23.6M397.8 631.4l23.6 -23.6M413.9 633.2h35.6M431.7 615.4v35.6M419.9 621.4l23.6 23.6M419.9 645l23.6 -23.6M438.1 614.6h35.6M455.9 596.8v35.6M444.1 602.8l23.6 23.6M444.1 626.4l23.6 -23.6M448.1 594.5h35.6M465.9 576.7v35.6M454.1 582.7l23.6 23.6M454.1 606.3l23.6 -23.6M457.2 663.3h35.6M475 645.5v35.6M463.2 651.5l23.6 23.6M463.2 675.1l23.6 -23.6M469.2 711.6h35.6M487 693.8v35.6M475.2 699.8l23.6 23.6M475.2 723.4l23.6 -23.6M478.3 785.4h35.6M496.1 767.6v35.6M484.3 773.6l23.6 23.6M484.3 797.2l23.6 -23.6M500.9 787.9h35.6M518.7 770.1v35.6M506.9 776.1l23.6 23.6M506.9 799.7l23.6 -23.6M511.9 750.3h35.6M529.7 732.5v35.6M517.9 738.5l23.6 23.6M517.9 762.1l23.6 -23.6M523.5 828.1h35.6M541.3 810.3v35.6M529.5 816.3l23.6 23.6M529.5 839.9l23.6 -23.6M533.5 674.9h35.6M551.3 657.1v35.6M539.5 663.1l23.6 23.6M539.5 686.7l23.6 -23.6M543.6 772.9h35.6M561.4 755.1v35.6M549.6 761.1l23.6 23.6M549.6 784.7l23.6 -23.6M567.2 761.8h35.6M585 744v35.6M573.2 750l23.6 23.6M573.2 773.6l23.6 -23.6M555.1 855.8h35.6M572.9 838v35.6M561.1 844l23.6 23.6M561.1 867.6l23.6 -23.6M579.8 858.3h35.6M597.6 840.5v35.6M585.8 846.5l23.6 23.6M585.8 870.1l23.6 -23.6M588.8 800.5h35.6M606.6 782.7v35.6M594.8 788.7l23.6 23.6M594.8 812.3l23.6 -23.6M601.4 732.7h35.6M619.2 714.9v35.6M607.4 720.9l23.6 23.6M607.4 744.5l23.6 -23.6M611.4 582.9h35.6M629.2 565.1v35.6M617.4 571.1l23.6 23.6M617.4 594.7l23.6 -23.6M621.5 496.5h35.6M639.3 478.7v35.6M627.5 484.7l23.6 23.6M627.5 508.3l23.6 -23.6M633 539.2h35.6M650.8 521.4v35.6M639 527.4l23.6 23.6M639 551l23.6 -23.6M644.1 435.2h35.6M661.9 417.4v35.6M650.1 423.4l23.6 23.6M650.1 447l23.6 -23.6M655.1 461.3h35.6M672.9 443.5v35.6M661.1 449.5l23.6 23.6M661.1 473.1l23.6 -23.6M666.7 490.5h35.6M684.5 472.7v35.6M672.7 478.7l23.6 23.6M672.7 502.3l23.6 -23.6M675.2 571.9h35.6M693 554.1v35.6M681.2 560.1l23.6 23.6M681.2 583.7l23.6 -23.6M685.8 614.6h35.6M703.6 596.8v35.6M691.8 602.8l23.6 23.6M691.8 626.4l23.6 -23.6M696.8 521.6h35.6M714.6 503.8v35.6M702.8 509.8l23.6 23.6M702.8 533.4l23.6 -23.6M719.5 592h35.6M737.3 574.2v35.6M725.5 580.2l23.6 23.6M725.5 603.8l23.6 -23.6M729.5 619.6h35.6M747.3 601.8v35.6M735.5 607.8l23.6 23.6M735.5 631.4l23.6 -23.6M739.6 664.8h35.6M757.4 647v35.6M745.6 653l23.6 23.6M745.6 676.6l23.6 -23.6M750.6 683.4h35.6M768.4 665.6v35.6M756.6 671.6l23.6 23.6M756.6 695.2l23.6 -23.6M760.7 722.6h35.6M778.5 704.8v35.6M766.7 710.8l23.6 23.6M766.7 734.4l23.6 -23.6M772.2 745.2h35.6M790 727.4v35.6M778.2 733.4l23.6 23.6M778.2 757l23.6 -23.6M706.9 765.3h35.6M724.7 747.5v35.6M712.9 753.5l23.6 23.6M712.9 777.1l23.6 -23.6M780.8 911.1h35.6M798.6 893.3v35.6M786.8 899.3l23.6 23.6M786.8 922.9l23.6 -23.6M792.3 966.3h35.6M810.1 948.5v35.6M798.3 954.5l23.6 23.6M798.3 978.1l23.6 -23.6M802.4 994h35.6M820.2 976.2v35.6M808.4 982.2l23.6 23.6M808.4 1005.8l23.6 -23.6M822.5 986.4h35.6M840.3 968.6v35.6M828.5 974.6l23.6 23.6M828.5 998.2l23.6 -23.6M835 976.4h35.6M852.8 958.6v35.6M841 964.6l23.6 23.6M841 988.2l23.6 -23.6M845.1 942.7h35.6M862.9 924.9v35.6M851.1 930.9l23.6 23.6M851.1 954.5l23.6 -23.6M854.1 901h35.6M871.9 883.2v35.6M860.1 889.2l23.6 23.6M860.1 912.8l23.6 -23.6M867.7 911.1h35.6M885.5 893.3v35.6M873.7 899.3l23.6 23.6M873.7 922.9l23.6 -23.6M879.3 892.5h35.6M897.1 874.7v35.6M885.3 880.7l23.6 23.6M885.3 904.3l23.6 -23.6M887.8 999h35.6M905.6 981.2v35.6M893.8 987.2l23.6 23.6M893.8 1010.8l23.6 -23.6M897.9 742.7h35.6M915.7 724.9v35.6M903.9 730.9l23.6 23.6M903.9 754.5l23.6 -23.6M907.9 471.4h35.6M925.7 453.6v35.6M913.9 459.6l23.6 23.6M913.9 483.2l23.6 -23.6M929.5 461.3h35.6M947.3 443.5v35.6M935.5 449.5l23.6 23.6M935.5 473.1l23.6 -23.6M940.6 491.5h35.6M958.4 473.7v35.6M946.6 479.7l23.6 23.6M946.6 503.3l23.6 -23.6M963.2 466.3h35.6M981 448.5v35.6M969.2 454.5l23.6 23.6M969.2 478.1l23.6 -23.6M950.6 525.6h35.6M968.4 507.8v35.6M956.6 513.8l23.6 23.6M956.6 537.4l23.6 -23.6M919.5 644.7h35.6M937.3 626.9v35.6M925.5 632.9l23.6 23.6M925.5 656.5l23.6 -23.6M994.8 661.3h35.6M1012.6 643.5v35.6M1000.8 649.5l23.6 23.6M1000.8 673.1l23.6 -23.6M1004.9 692.5h35.6M1022.7 674.7v35.6M1010.9 680.7l23.6 23.6M1010.9 704.3l23.6 -23.6M1027 730.2h35.6M1044.8 712.4v35.6M1033 718.4l23.6 23.6M1033 742l23.6 -23.6M973.2 788h35.6M991 770.2v35.6M979.2 776.2l23.6 23.6M979.2 799.8l23.6 -23.6M983.3 820.6h35.6M1001.1 802.8v35.6M989.3 808.8l23.6 23.6M989.3 832.4l23.6 -23.6M1015.9 800.5h35.6M1033.7 782.7v35.6M1021.9 788.7l23.6 23.6M1021.9 812.3l23.6 -23.6M1070.2 772.9h35.6M1088 755.1v35.6M1076.2 761.1l23.6 23.6M1076.2 784.7l23.6 -23.6M1037.6 848.4h35.6M1055.4 830.6v35.6M1043.6 836.6l23.6 23.6M1043.6 860.2l23.6 -23.6M1049.4 844.6h35.6M1067.2 826.8v35.6M1055.4 832.8l23.6 23.6M1055.4 856.4l23.6 -23.6M1059 869.7h35.6M1076.8 851.9v35.6M1065 857.9l23.6 23.6M1065 881.5l23.6 -23.6M1081.2 886h35.6M1099 868.2v35.6M1087.2 874.2l23.6 23.6M1087.2 897.8l23.6 -23.6M1092.6 1095h35.6M1110.4 1077.2v35.6M1098.6 1083.2l23.6 23.6M1098.6 1106.8l23.6 -23.6M1102.2 973.5h35.6M1120 955.7v35.6M1108.2 961.7l23.6 23.6M1108.2 985.3l23.6 -23.6M1123.6 966h35.6M1141.4 948.2v35.6M1129.6 954.2l23.6 23.6M1129.6 977.8l23.6 -23.6M1113.6 999.9h35.6M1131.4 982.1v35.6M1119.6 988.1l23.6 23.6M1119.6 1011.7l23.6 -23.6M1136.2 998.6h35.6M1154 980.8v35.6M1142.2 986.8l23.6 23.6M1142.2 1010.4l23.6 -23.6M1158 1025h35.6M1175.8 1007.2v35.6M1164 1013.2l23.6 23.6M1164 1036.8l23.6 -23.6M1147 1055.2h35.6M1164.8 1037.4v35.6M1153 1043.4l23.6 23.6M1153 1067l23.6 -23.6M1190.2 837.2h35.6M1208 819.4v35.6M1196.2 825.4l23.6 23.6M1196.2 849l23.6 -23.6M1198.7 529.1h35.6M1216.5 511.3v35.6M1204.7 517.3l23.6 23.6M1204.7 540.9l23.6 -23.6M1223.9 540.7h35.6M1241.7 522.9v35.6M1229.9 528.9l23.6 23.6M1229.9 552.5l23.6 -23.6M1241.9 557.8h35.6M1259.7 540v35.6M1247.9 546l23.6 23.6M1247.9 569.6l23.6 -23.6M1211.8 607h35.6M1229.6 589.2v35.6M1217.8 595.2l23.6 23.6M1217.8 618.8l23.6 -23.6M1232.9 614.6h35.6M1250.7 596.8v35.6M1238.9 602.8l23.6 23.6M1238.9 626.4l23.6 -23.6M1252 666.3h35.6M1269.8 648.5v35.6M1258 654.5l23.6 23.6M1258 678.1l23.6 -23.6M1275.6 684.9h35.6M1293.4 667.1v35.6M1281.6 673.1l23.6 23.6M1281.6 696.7l23.6 -23.6M1287.2 700h35.6M1305 682.2v35.6M1293.2 688.2l23.6 23.6M1293.2 711.8l23.6 -23.6M1263.1 938.7h35.6M1280.9 920.9v35.6M1269.1 926.9l23.6 23.6M1269.1 950.5l23.6 -23.6M1297.2 913.6h35.6M1315 895.8v35.6M1303.2 901.8l23.6 23.6M1303.2 925.4l23.6 -23.6M1308.3 820.6h35.6M1326.1 802.8v35.6M1314.3 808.8l23.6 23.6M1314.3 832.4l23.6 -23.6M1319.3 859.3h35.6M1337.1 841.5v35.6M1325.3 847.5l23.6 23.6M1325.3 871.1l23.6 -23.6M1330.9 778.9h35.6M1348.7 761.1v35.6M1336.9 767.1l23.6 23.6M1336.9 790.7l23.6 -23.6M1340.9 968.8h35.6M1358.7 951v35.6M1346.9 957l23.6 23.6M1346.9 980.6l23.6 -23.6M1362.6 901h35.6M1380.4 883.2v35.6M1368.6 889.2l23.6 23.6M1368.6 912.8l23.6 -23.6M1384.7 1061.8h35.6M1402.5 1044v35.6M1390.7 1050l23.6 23.6M1390.7 1073.6l23.6 -23.6M1393.7 976.4h35.6M1411.5 958.6v35.6M1399.7 964.6l23.6 23.6M1399.7 988.2l23.6 -23.6M1406.2 973.9h35.6M1424 956.1v35.6M1412.2 962.1l23.6 23.6M1412.2 985.7l23.6 -23.6M1417.8 994h35.6M1435.6 976.2v35.6M1423.8 982.2l23.6 23.6M1423.8 1005.8l23.6 -23.6M1427.9 1061.8h35.6M1445.7 1044v35.6M1433.9 1050l23.6 23.6M1433.9 1073.6l23.6 -23.6M1443 1036.7h35.6M1460.8 1018.9v35.6M1449 1024.9l23.6 23.6M1449 1048.5l23.6 -23.6M1453 1034.2h35.6M1470.8 1016.4v35.6M1459 1022.4l23.6 23.6M1459 1046l23.6 -23.6M1471.6 933.7h35.6M1489.4 915.9v35.6M1477.6 921.9l23.6 23.6M1477.6 945.5l23.6 -23.6M1494.2 551.8h35.6M1512 534v35.6M1500.2 540l23.6 23.6M1500.2 563.6l23.6 -23.6M1505.2 906h35.6M1523 888.2v35.6M1511.2 894.2l23.6 23.6M1511.2 917.8l23.6 -23.6M1514.3 674.9h35.6M1532.1 657.1v35.6M1520.3 663.1l23.6 23.6M1520.3 686.7l23.6 -23.6M1525.4 654.8h35.6M1543.2 637v35.6M1531.4 643l23.6 23.6M1531.4 666.6l23.6 -23.6M1536.9 695h35.6M1554.7 677.2v35.6M1542.9 683.2l23.6 23.6M1542.9 706.8l23.6 -23.6M1547 737.7h35.6M1564.8 719.9v35.6M1553 725.9l23.6 23.6M1553 749.5l23.6 -23.6M1557 913.6h35.6M1574.8 895.8v35.6M1563 901.8l23.6 23.6M1563 925.4l23.6 -23.6M1578.6 859.3h35.6M1596.4 841.5v35.6M1584.6 847.5l23.6 23.6M1584.6 871.1l23.6 -23.6M1598.7 942.7h35.6M1616.5 924.9v35.6M1604.7 930.9l23.6 23.6M1604.7 954.5l23.6 -23.6M1588.7 983.9h35.6M1606.5 966.1v35.6M1594.7 972.1l23.6 23.6M1594.7 995.7l23.6 -23.6M1620.8 845.7h35.6M1638.6 827.9v35.6M1626.8 833.9l23.6 23.6M1626.8 857.5l23.6 -23.6M1639.9 905h35.6M1657.7 887.2v35.6M1645.9 893.2l23.6 23.6M1645.9 916.8l23.6 -23.6M1629.9 990h35.6M1647.7 972.2v35.6M1635.9 978.2l23.6 23.6M1635.9 1001.8l23.6 -23.6M1651 952.8h35.6M1668.8 935v35.6M1657 941l23.6 23.6M1657 964.6l23.6 -23.6M1662.6 1010h35.6M1680.4 992.2v35.6M1668.6 998.2l23.6 23.6M1668.6 1021.8l23.6 -23.6M1674.1 923.6h35.6M1691.9 905.8v35.6M1680.1 911.8l23.6 23.6M1680.1 935.4l23.6 -23.6M1684.2 862.3h35.6M1702 844.5v35.6M1690.2 850.5l23.6 23.6M1690.2 874.1l23.6 -23.6M1694.2 973.9h35.6M1712 956.1v35.6M1700.2 962.1l23.6 23.6M1700.2 985.7l23.6 -23.6M1704.3 885.9h35.6M1722.1 868.1v35.6M1710.3 874.1l23.6 23.6M1710.3 897.7l23.6 -23.6M1714.3 941.2h35.6M1732.1 923.4v35.6M1720.3 929.4l23.6 23.6M1720.3 953l23.6 -23.6M1726.4 938.7h35.6M1744.2 920.9v35.6M1732.4 926.9l23.6 23.6M1732.4 950.5l23.6 -23.6M1745.5 1059.3h35.6M1763.3 1041.5v35.6M1751.5 1047.5l23.6 23.6M1751.5 1071.1l23.6 -23.6M1758 967.8h35.6M1775.8 950v35.6M1764 956l23.6 23.6M1764 979.6l23.6 -23.6M1768.1 690h35.6M1785.9 672.2v35.6M1774.1 678.2l23.6 23.6M1774.1 701.8l23.6 -23.6M1780.6 517.6h35.6M1798.4 499.8v35.6M1786.6 505.8l23.6 23.6M1786.6 529.4l23.6 -23.6M1803.2 708.5h35.6M1821 690.7v35.6M1809.2 696.7l23.6 23.6M1809.2 720.3l23.6 -23.6M1791.7 805.5h35.6M1809.5 787.7v35.6M1797.7 793.7l23.6 23.6M1797.7 817.3l23.6 -23.6M1814.8 825.6h35.6M1832.6 807.8v35.6M1820.8 813.8l23.6 23.6M1820.8 837.4l23.6 -23.6M1825.9 921.1h35.6M1843.7 903.3v35.6M1831.9 909.3l23.6 23.6M1831.9 932.9l23.6 -23.6M1848.5 902h35.6M1866.3 884.2v35.6M1854.5 890.2l23.6 23.6M1854.5 913.8l23.6 -23.6M1858.5 743.7h35.6M1876.3 725.9v35.6M1864.5 731.9l23.6 23.6M1864.5 755.5l23.6 -23.6M1880.2 870.9h35.6M1898 853.1v35.6M1886.2 859.1l23.6 23.6M1886.2 882.7l23.6 -23.6M1891.2 837.2h35.6M1909 819.4v35.6M1897.2 825.4l23.6 23.6M1897.2 849l23.6 -23.6M1902.2 956.3h35.6M1920 938.5v35.6M1908.2 944.5l23.6 23.6M1908.2 968.1l23.6 -23.6M1916.2 880.9h35.6M1934 863.1v35.6M1922.2 869.1l23.6 23.6M1922.2 892.7l23.6 -23.6" stroke="#000" stroke-width="4.4" fill="none"/>
<clipPath id="clipb"><rect x="180" y="1720" width="604" height="552.4"/></clipPath>
<polyline clip-path="url(#clipb)" points="180.9,2066.3 198.2,2066.3 201.8,2061.7 207.2,2066.3 212.7,2069 221.8,2069.9 227.2,2072.6 232.7,2074.5 238.1,2082.6 242.6,2082.6 246.3,2090.8 254.5,2092.6 258.1,2093.5 261.7,2099.9 266.3,2099.9 269.9,2104.4 272.6,2098.1 278.1,2094.4 283.5,2085.3 289,2079.9 292.6,2072.6 296.2,2067.2 300.8,2058.1 305.3,2053.6 310.7,2049 314.4,2042.7 319.8,2039.9 323.5,2035.4 330.7,2033.6 338,2033.6 342.5,2031.8 350.7,2032.7 357,2034.5 359.8,2029.1 362.5,2018.2 364.3,2003.6 366.1,1990.7 368.9,1972.5 370.7,1954.3 373.4,1936.2 376.1,1918 379.7,1901.7 384.3,1889 388.8,1883.5 393.4,1887.2 397.9,1899.9 402.4,1918 406.1,1936.2 408.8,1950.7 412.4,1954.3 416.1,1943.5 420.6,1931.7 425.1,1928 429.7,1933.5 434.2,1947.1 437.9,1959.8 441.5,1973.4 445.1,1963.4 448.7,1945.3 452.4,1932.6 455.1,1928.9 457.8,1939.8 461.5,1958 465.1,1979.8 468.7,1958 472.4,1910.8 476,1863.6 479.6,1830.9 480,1827.6 485.6,1820 489.4,1821.9 493.1,1835.1 496.9,1853.8 499.7,1872.6 501.6,1887.6 505.3,1898.9 510,1895.1 515.7,1886.7 518.5,1887.6 523.2,1895.1 528.8,1900.7 534.4,1901.7 540,1902.6 545.7,1908.2 553.2,1912 560.7,1913.9 570.1,1915.8 579.5,1918.6 587,1921.4 596.3,1923.3 603.9,1926.1 615.1,1926.1 626.4,1928.9 639.5,1929.8 648.9,1931.7 658.3,1929.8 667.7,1932.3 677,1929.8 686.4,1931.7 705.2,1930.4 723.9,1931.1 742.7,1930.8 754,1933.6 761.5,1930.8 772.7,1931.1 782.1,1932.3" fill="none" stroke="#ff0000" stroke-width="3.5" stroke-linejoin="round"/>
<polyline clip-path="url(#clipb)" points="180.9,2071.7 189.1,2073.5 194.5,2069 201.8,2063.6 209.1,2066.3 216.3,2067.2 223.6,2064.5 229,2066.3 234.5,2063.6 239.9,2070.8 243.6,2071.7 246.3,2081.7 249.9,2076.3 254.5,2087.2 259,2089 262.6,2096.2 267.2,2097.1 272.6,2100.8 278.1,2106.2 285.3,2107.1 289.9,2110.8 294.4,2105.3 298.9,2105.3 303.5,2097.1 307.1,2095.3 310.7,2087.2 318,2079.9 322.5,2071.7 327.1,2068.1 330.7,2059.9 334.3,2060.8 338,2049 342.5,2043.6 347.1,2032.7 351.6,2028.1 358,2027.2 361.6,2023.6 365.2,2018.2 367.9,2009.1 369.8,2000 371.6,1981.6 373.4,1963.4 376.1,1945.3 378.8,1927.1 381.9,1910.8 386.1,1892.6 391.5,1879.9 397,1883.5 401.5,1898.1 406.1,1916.2 409.7,1934.4 414.2,1950.7 417.9,1952.5 423.3,1944.4 428.8,1943.5 433.3,1948.9 437.9,1963.4 442.4,1980.7 446.6,1976.1 450.6,1954.3 454.2,1928.9 459.6,1916.2 462.4,1918 466,1936.2 469.6,1954.3 473.3,1936.2 477.8,1881.7 480,1872.6 482.8,1850.1 486.6,1825.7 490.3,1820 495,1825.7 498.8,1838.8 502.5,1859.5 506.3,1882 509.1,1905.4 513.8,1910.1 520.3,1902.6 528.8,1906.4 534.4,1906 540,1900.7 547.6,1901.1 555.1,1909.2 564.4,1913.9 577.6,1915.8 588.8,1919.5 596.3,1921.4 607.6,1924.2 620.7,1925.1 630.1,1926.6 643.3,1927.4 650.8,1929.8 660.1,1927.9 669.5,1931.1 677,1928.5 686.4,1929.8 705.2,1928.9 723.9,1927.6 750.2,1927.9 757.7,1928.9 765.2,1926.6 774.6,1926.1 782.1,1928.9" fill="none" stroke="#0000ff" stroke-width="3.5" stroke-linejoin="round"/>
<path d="M202.8 2051.5h28.8M217.2 2037.1v28.8M206.6 2040.9l21.2 21.2M206.6 2062.1l21.2 -21.2M284 2022.4h28.8M298.4 2008v28.8M287.8 2011.8l21.2 21.2M287.8 2033l21.2 -21.2M358.4 1957.6h28.8M372.8 1943.2v28.8M362.2 1947l21.2 21.2M362.2 1968.2l21.2 -21.2M434 1921.3h28.8M448.4 1906.9v28.8M437.8 1910.7l21.2 21.2M437.8 1931.9l21.2 -21.2M512.1 1939.2h28.8M526.5 1924.8v28.8M515.9 1928.6l21.2 21.2M515.9 1949.8l21.2 -21.2M589.8 1894.7h28.8M604.2 1880.3v28.8M593.6 1884.1l21.2 21.2M593.6 1905.3l21.2 -21.2M664.9 1906h28.8M679.3 1891.6v28.8M668.7 1895.4l21.2 21.2M668.7 1916.6l21.2 -21.2M739.2 1918h28.8M753.6 1903.6v28.8M743 1907.4l21.2 21.2M743 1928.6l21.2 -21.2" stroke="#000" stroke-width="3.9" fill="none"/>
<clipPath id="clipc"><rect x="947" y="1723" width="609.4" height="552"/></clipPath>
<polyline clip-path="url(#clipc)" points="948.8,2089.9 953.4,2091.8 957.2,2098.3 961,2107.7 965.6,2108.1 972.2,2109.6 978.8,2104.9 985.3,2100.2 991.9,2096.5 997.5,2099.3 1003.2,2104 1008.8,2104 1014.4,2110.5 1020.1,2111.5 1027.6,2102.1 1033.2,2090.8 1038.8,2080.5 1042.6,2070.2 1047.3,2060.8 1052,2053.3 1057.6,2038.3 1063.2,2025.2 1068.9,2012 1074.5,1995.1 1080.1,1976.4 1085.7,1961.4 1091.4,1948.2 1097.9,1935.1 1102.6,1928.5 1108.3,1922.9 1113.9,1915.4 1119.5,1907.9 1125.1,1901.3 1130.8,1893.8 1135.5,1891 1140.2,1892.9 1145.8,1897.6 1153.3,1906 1159.9,1911.6 1166.4,1918.2 1172.1,1926.6 1177.7,1937.9 1182.4,1939.8 1186.1,1935.1 1190.8,1920.1 1195.5,1905.1 1199.3,1893.8 1203,1882.5 1207.7,1875 1213.3,1869.4 1219,1868.5 1224.6,1870.3 1230.2,1875 1234.9,1882.5 1239.6,1895.7 1245.2,1920.1 1249,1944.5 1252.8,1970.7 1253.8,1970.7 1257.5,1992.3 1263.1,1985.8 1268.8,1976.4 1272.5,1965.1 1275.9,1953.9 1280,1965.1 1284.7,1976.4 1287.5,1983.9 1291.3,1972.6 1296,1959.5 1300.7,1946.3 1306.3,1934.1 1311,1921.9 1315.7,1912.6 1320.4,1909.8 1325.1,1914.4 1329.8,1924.8 1334.4,1935.1 1339.1,1946.3 1343.8,1961.4 1347.6,1978.2 1351.3,1993.3 1355.1,2008.3 1358.8,2000.8 1362.6,1991.4 1366.3,1974.5 1370.1,1957.6 1374.8,1948.2 1379.5,1941.7 1385.1,1937.9 1391.7,1936 1397.3,1937 1402,1946.3 1405.8,1957.6 1409.5,1970.7 1413.3,1983.9 1417,1988.6 1420.8,1990.4 1425.5,1983.9 1429.2,1976.4 1433,1961.4 1436.7,1946.3 1439.5,1937.9 1445.2,1932.3 1448.9,1944.5 1452.7,1957.6 1456.4,1967.9 1463.9,1971.7 1471.4,1968.9 1478.9,1963.2 1487.4,1958.5 1493.9,1963.2 1503.3,1961.4 1512.7,1963.2 1522.1,1965.1 1529.6,1967.9 1537.1,1965.1 1546.5,1963.6 1554.9,1964.2" fill="none" stroke="#ff0000" stroke-width="3.5" stroke-linejoin="round"/>
<polyline clip-path="url(#clipc)" points="948.8,2086.1 953.4,2088 958.1,2092.7 962.8,2100.2 967.5,2106.8 973.1,2107.7 979.7,2104 985.3,2098.3 991,2093.7 995.7,2095.5 1001.3,2099.3 1006,2100.2 1009.7,2097.4 1013.5,2104.9 1017.2,2109.6 1022.9,2115.2 1027.6,2120.9 1031.3,2109.6 1034.1,2102.1 1039.8,2098.3 1042.6,2089 1045.4,2079.6 1050.1,2073.9 1055.7,2066.4 1061.3,2058 1066,2051.4 1070.7,2040.2 1076.4,2030.8 1080.1,2021.4 1085.7,2002.6 1091.4,1985.8 1097,1970.7 1102.6,1957.6 1108.3,1946.3 1113.9,1938.8 1121.4,1931.3 1128,1923.8 1132.7,1917.3 1138.3,1909.8 1143.9,1901.3 1149.5,1897.6 1155.2,1898.5 1160.8,1902.2 1166.4,1906 1172.1,1908.8 1178.6,1911.6 1185.2,1918.2 1189.9,1929.5 1193.6,1938.8 1197.4,1949.2 1203,1945.4 1206.8,1935.1 1211.5,1920.1 1216.2,1905.1 1220.8,1891.9 1226.5,1882.5 1232.1,1875 1237.7,1870.3 1244.3,1868.5 1249.9,1871.3 1250,1871.3 1253.8,1876.9 1258.4,1891.9 1262.2,1914.4 1266,1938.8 1268.8,1959.5 1271.6,1972.6 1276.3,1978.2 1281,1976.4 1285.7,1972.6 1289.4,1967 1294.1,1953.9 1297.9,1961.4 1301.6,1980.1 1306.3,2005.5 1310,1993.3 1313.8,1983.9 1319.4,1972.6 1325.1,1957.6 1328.8,1938.8 1332.6,1925.7 1337.3,1916.3 1343.8,1913.5 1349.5,1914.4 1355.1,1920.1 1360.7,1931.3 1365.4,1948.2 1370.1,1968.9 1373.9,1985.8 1379.1,2010.1 1384.2,2003.6 1389.8,1997 1394.5,1989.5 1399.2,1980.1 1403.9,1961.4 1407.6,1940.7 1411.4,1927.6 1416.1,1923.8 1420.8,1925.7 1426.4,1937 1430.1,1961.4 1433.9,1980.1 1439.5,1997 1445.2,1995.1 1448.9,1983.9 1454.5,1965.1 1459.2,1952 1463.9,1938.8 1469.6,1948.2 1475.2,1963.2 1480.8,1969.8 1488.3,1969.8 1493.9,1964.2 1499.6,1961.4 1509,1963.6 1518.3,1964.2 1527.7,1963.6 1537.1,1962.9 1544.6,1964.7 1554.9,1964.2" fill="none" stroke="#0000ff" stroke-width="3.5" stroke-linejoin="round"/>
<path d="M949 2029.9h28.8M963.4 2015.5v28.8M952.8 2019.3l21.2 21.2M952.8 2040.5l21.2 -21.2M1062.9 1913.5h28.8M1077.3 1899.1v28.8M1066.7 1902.9l21.2 21.2M1066.7 1924.1l21.2 -21.2M1176.1 1987.3h28.8M1190.5 1972.9v28.8M1179.9 1976.7l21.2 21.2M1179.9 1997.9l21.2 -21.2M1289.6 1908.8h28.8M1304 1894.4v28.8M1293.4 1898.2l21.2 21.2M1293.4 1919.4l21.2 -21.2M1403 1922h28.8M1417.4 1907.6v28.8M1406.8 1911.4l21.2 21.2M1406.8 1932.6l21.2 -21.2M1516.1 1936h28.8M1530.5 1921.6v28.8M1519.9 1925.4l21.2 21.2M1519.9 1946.6l21.2 -21.2" stroke="#000" stroke-width="3.9" fill="none"/>
<clipPath id="clipd"><rect x="1699.5" y="1723" width="609.9" height="554.5"/></clipPath>
<polyline clip-path="url(#clipd)" points="1700.6,2130.2 1705.4,2118.1 1708.5,2130.2 1711.5,2131.4 1714.5,2126 1718.2,2126.6 1721.8,2115.7 1726.6,2119.3 1729.7,2118.1 1733.9,2123 1737.5,2126 1741.8,2126 1745.4,2119.9 1753.3,2119.3 1756.9,2110.8 1760.5,2108.4 1765.4,2105.4 1769.6,2101.2 1774.1,2092.1 1778.1,2100 1782.3,2109 1786,2095.1 1790.8,2094.5 1792.6,2084.2 1794.4,2072.1 1796.9,2064.8 1805.1,2030.8 1808.8,2021.4 1812.6,2008.3 1817.3,1997.9 1822,1980.1 1826.7,1968.9 1831.4,1959.5 1836,1948.2 1840.7,1940.7 1846.4,1929.5 1852,1921.9 1857.6,1915.4 1863.3,1909.8 1868.9,1906 1876.4,1904.7 1883,1906.9 1889.5,1910.7 1895.2,1917.3 1900.8,1925.7 1906.4,1936 1912,1942.6 1918.6,1946.3 1925.2,1944.5 1932.7,1939.8 1938.3,1937.9 1943.9,1938.8 1950.5,1944.5 1955.2,1957.6 1959,1976.4 1962.7,1998.9 1966.5,2025.2 1968.3,2043 1972.1,2034.5 1975.8,2042 1980.5,2042 1983.4,2021.4 1986.2,1995.1 1989.9,1965.1 1992.7,1950.1 1996.5,1935.1 2001.2,1930.4 2005.9,1931.3 2009.4,1935.1 2014.1,1944.5 2018.8,1959.5 2022.5,1972.6 2026.3,1993.3 2030,2015.8 2032.3,2031.7 2036.6,2019.5 2040.3,2011.1 2045,2006.4 2049.2,2002.6 2052.5,1991.4 2056.3,1978.2 2060,1967 2064.7,1962.3 2069.4,1961.4 2073.2,1972.6 2076.9,1978.2 2082.6,1978.2 2087.3,1980.1 2091.9,1989.5 2094.8,2002.6 2097.6,2015.8 2102.3,2013 2105.1,2004.5 2108.8,1991.4 2112.6,1983.9 2118.2,1982.9 2122.9,1987.6 2126.7,1993.3 2131.4,1988.6 2136,1982.9 2139.8,1985.8 2143.6,1993.3 2148.2,1998.9 2152,2000.8 2157.6,1995.1 2161.4,2001.7 2165.1,1998.9 2169.8,2006.4 2174.5,1995.1 2179.2,1987.6 2183.9,1988.6 2187.7,1995.1 2191.4,2002.6 2196.1,2007.3 2200.8,2002.6 2206.4,1999.8 2213.9,2001.7 2218.6,2010.1 2222.4,2015.8 2230.8,2014.8 2234.6,2005.5 2238.3,2004.5 2243,2009.2 2249.6,2008.3 2254.3,2009.2 2259,2033.6 2262.7,2021.4 2266.5,2032.7 2271.2,2027 2274.9,2013.9 2279.6,2013 2285.2,2017.7 2289.9,2035.5 2294.6,2036.4 2298.4,2043 2303.1,2043.9 2308.7,2032.7" fill="none" stroke="#ff0000" stroke-width="3.5" stroke-linejoin="round"/>
<polyline clip-path="url(#clipd)" points="1700.6,2138.7 1704.8,2137.5 1709.7,2131.4 1713.3,2126 1718.2,2132 1721.8,2129.6 1725.4,2132 1729.1,2138.7 1734.5,2147.8 1738.7,2145.4 1741.2,2138.1 1746,2138.7 1749.6,2131.4 1753.3,2120.5 1758.1,2124.2 1762.3,2115.1 1766.6,2122.3 1771.4,2118.1 1777.5,2119.3 1781.7,2121.1 1786,2116.3 1790.8,2117.5 1794.4,2107.8 1798.7,2119.3 1802.3,2108.4 1806.5,2103 1811.4,2105.4 1815,2095.1 1818.6,2085.4 1822.9,2088.5 1825.9,2080.6 1829.5,2069.7 1833.2,2060 1835.1,2051.4 1837,2043.9 1839.8,2030.8 1844.5,2019.5 1849.2,2004.5 1853.9,1985.8 1859.5,1970.7 1865.1,1957.6 1870.8,1946.3 1876.4,1937 1882,1927.6 1887.7,1918.2 1893.3,1911.6 1898.9,1906.9 1904.5,1904.1 1910.2,1902.2 1915.8,1902.2 1921.4,1906.9 1927.1,1912.6 1932.7,1920.1 1939.3,1928.5 1943.9,1937 1947.7,1944.5 1952.4,1950.1 1958,1953.9 1963.7,1955.7 1968.3,1952.9 1974,1951 1979.6,1952.9 1984.3,1959.5 1989,1970.7 1993.7,1983.9 1998.4,1998.9 2002.1,2017.7 2004.9,2036.4 2007.8,2055.2 2008.4,2068.3 2012.2,2040.2 2016,2015.8 2019.7,1995.1 2023.5,1983.9 2027.2,1967 2031,1953.9 2034.7,1942.6 2039.4,1929.5 2044.1,1926.6 2048.8,1935.1 2052.5,1950.1 2056.3,1972.6 2060,2008.3 2064.7,2011.1 2069.4,2027 2073.2,2037.4 2076.9,2023.3 2080.7,2006.4 2085.4,1995.1 2088.2,1980.1 2091.9,1968.9 2096.6,1972.6 2101.3,1976.4 2106,1968.9 2109.8,1965.1 2114.5,1968.9 2118.2,1974.5 2122,1985.8 2124.8,1995.1 2129.5,1998.9 2135.1,2002.6 2138.9,2006.4 2142.2,2012 2146.4,2008.3 2150.1,1998.9 2153.9,1983.9 2157.6,1976.4 2161.4,1982 2167.9,1982 2172.6,1980.1 2177.9,1975.4 2182,1982 2184.8,1989.5 2189.5,2004.5 2194.2,2015.8 2198.9,2004.5 2203.6,1987.6 2207.4,1978.2 2210.5,1974.5 2214.9,1982 2218.6,1995.1 2223.3,1999.8 2228,1991.4 2232.7,1989.5 2238.3,1988.6 2243,1997.9 2246.8,1991.4 2250.5,2006.4 2254.3,2002.6 2259,2004.5 2263.7,1999.8 2267.4,1994.2 2274,1987.6 2278.7,2000.8 2282.4,2001.7 2287.1,2021.4 2291.8,2013.9 2296.5,2011.1 2300.2,2002.6 2304,1998.9 2308.7,2001.7" fill="none" stroke="#0000ff" stroke-width="3.5" stroke-linejoin="round"/>
<path d="M1759.7 2072.1h28.8M1774.1 2057.7v28.8M1763.5 2061.5l21.2 21.2M1763.5 2082.7l21.2 -21.2M1838.2 1939.4h28.8M1852.6 1925v28.8M1842 1928.8l21.2 21.2M1842 1950l21.2 -21.2M1920.2 1972.6h28.8M1934.6 1958.2v28.8M1924 1962l21.2 21.2M1924 1983.2l21.2 -21.2M2001 1944.5h28.8M2015.4 1930.1v28.8M2004.8 1933.9l21.2 21.2M2004.8 1955.1l21.2 -21.2M2054.7 1976h28.8M2069.1 1961.6v28.8M2058.5 1965.4l21.2 21.2M2058.5 1986.6l21.2 -21.2M2120.3 1951h28.8M2134.7 1936.6v28.8M2124.1 1940.4l21.2 21.2M2124.1 1961.6l21.2 -21.2M2199.1 1998h28.8M2213.5 1983.6v28.8M2202.9 1987.4l21.2 21.2M2202.9 2008.6l21.2 -21.2M2277.4 2115.2h28.8M2291.8 2100.8v28.8M2281.2 2104.6l21.2 21.2M2281.2 2125.8l21.2 -21.2" stroke="#000" stroke-width="3.9" fill="none"/>
<clipPath id="clipe"><rect x="525.5" y="2463.6" width="611.9" height="554.8"/></clipPath>
<polyline clip-path="url(#clipe)" points="526.6,2885.1 530.4,2889.4 534.8,2897 539.2,2904.1 542.4,2896 545.7,2892.7 548.4,2893.8 551.1,2902.5 555,2901.4 557.7,2896 559.9,2890.5 562,2897 564.2,2901.4 568.6,2896 571.9,2892.1 575.1,2900.3 579.5,2904.7 582.7,2898.1 586.6,2892.7 589.3,2887.2 591.5,2879.6 594.7,2885.1 596.9,2887.2 600.2,2885.1 603.4,2878.5 608.9,2872 612.2,2869.8 616.5,2866.5 618.8,2857.1 620.7,2850.5 626.3,2843.9 630.1,2834.6 633.8,2827.1 637.6,2817.7 641.3,2808.3 644.2,2793.3 648.9,2785.8 652.6,2772.6 656.4,2763.3 660.1,2755.8 664.8,2744.5 668.6,2735.1 672.3,2723.9 677.9,2716.3 682.6,2706 688.3,2698.5 693.9,2690.1 701.4,2680.7 708.9,2674.1 716.4,2668.5 723.9,2665.7 731.4,2665.7 738.9,2666.1 746.4,2670.9 752.1,2676 757.7,2680.7 763.3,2687.3 768.9,2692.9 774.6,2699.5 780.2,2701.3 786.8,2702.8 793.3,2701.3 800.8,2701 808.4,2699.5 814.9,2702.3 821.5,2709.8 827.1,2718.2 830.9,2731.4 833.8,2738.9 835.6,2742.6 839.4,2755.8 843.1,2770.8 846.9,2787.7 849.7,2793.3 853.5,2791.4 858.1,2782 861,2772.6 862.8,2757.6 865.7,2742.6 869.4,2727.6 873.2,2716.3 876.9,2707 881.6,2695.7 886.3,2690.1 891.9,2689.1 896.6,2695.7 901.3,2705.1 906,2716.3 909.8,2727.6 912.6,2742.6 915.4,2759.5 918.2,2772.6 921,2781.1 927.6,2775.5 931.3,2780.1 935.1,2787.7 937.9,2784.8 940.7,2767 944.5,2761.4 948.2,2752 952,2742.6 955.7,2733.2 961.4,2727.6 968.9,2724.8 976.4,2727.6 980.1,2733.2 983.9,2744.5 987.6,2753.9 991.4,2757.6 997,2758.6 1000.8,2763.3 1004.5,2772.6 1008.3,2783.9 1012,2787.7 1015.8,2782 1019.5,2770.8 1023.3,2761.4 1027,2752.9 1032.7,2752 1040.2,2752.9 1047.7,2753.9 1053.3,2759.5 1057.1,2772.6 1062.7,2783.9 1066.8,2798.9 1071.1,2785.8 1074.9,2774.5 1079.6,2771.7 1084.3,2773.6 1088,2782 1090.8,2790.5 1094.6,2782 1098.3,2778.3 1102.1,2783 1105.8,2784.8 1109.6,2797 1114.3,2801.7 1119,2799.8 1122.7,2789.5 1126.5,2777.3 1130.2,2776.4 1134,2780.1 1138.7,2787.7" fill="none" stroke="#ff0000" stroke-width="3.5" stroke-linejoin="round"/>
<polyline clip-path="url(#clipe)" points="526.6,2868.2 531,2868.2 535.4,2863.3 540.3,2868.2 543.5,2873.6 546.8,2878.5 551.7,2882.9 554.4,2887.2 557.7,2896 559.9,2901.4 563.1,2904.7 565.3,2909 568,2923.2 570.8,2913.4 575.1,2912.3 579.5,2916.7 581.7,2911.2 583.8,2902.5 587.6,2891.6 591.5,2894.3 596.4,2894.9 600.2,2902.5 603.4,2891.6 607.8,2888.3 612.2,2892.1 616.5,2892.1 620.9,2895.4 624.2,2875.3 628,2876.3 632.9,2880.7 636.1,2888.3 640.5,2887.2 644.9,2891.6 647,2900.3 649.2,2909.6 653.6,2905.2 657.9,2906.3 661.2,2910.7 665.6,2906.3 667.7,2896 669.9,2884 672.1,2868.7 676.4,2868.7 679.7,2863.3 682.6,2855.2 686.4,2843.9 690.1,2836.4 694.8,2827.1 698.6,2813.9 703.3,2797 707,2785.8 710.8,2774.5 714.5,2761.4 718.3,2750.1 722,2742.6 724.8,2733.2 728.6,2725.7 733.3,2714.5 738.9,2705.1 744.6,2697.6 750.2,2688.2 755.8,2678.8 761.4,2672.2 768.9,2665.7 776.5,2659.1 784,2655.4 791.5,2655.4 799,2656.3 806.5,2661.9 814,2670.4 819.6,2676.9 825.2,2686.3 830.9,2699.5 833.8,2707 837.5,2716.3 841.3,2727.6 845,2737 848.8,2748.2 852.5,2755.8 857.2,2759.5 862.8,2763.3 868.5,2762.3 873.2,2756.7 878.8,2752 884.4,2748.2 890,2752.9 895.7,2754.8 901.3,2758.6 908.8,2757.6 914.4,2752 921,2746.4 925.7,2737 929.5,2730.4 934.1,2724.8 938.8,2719.2 946.3,2715.4 950.1,2715.4 954.8,2722 959.5,2731.4 964.2,2746.4 967.9,2759.5 971.7,2770.8 974.5,2782 977.7,2793.3 981.1,2785.8 984.8,2776.4 989.5,2774.5 994.2,2769.8 998.9,2759.5 1001.7,2748.2 1005.5,2731.4 1009.2,2716.3 1013,2710.7 1017.7,2709.8 1022.3,2714.5 1026.1,2727.6 1028.9,2738.9 1032.7,2742.6 1036.4,2741.7 1041.1,2753.9 1043.9,2765.1 1046.7,2773.6 1051.4,2767 1057.1,2765.1 1062.7,2756.7 1066.4,2767.9 1070.2,2759.5 1074.9,2763.3 1078.6,2753.9 1082.4,2735.1 1087.1,2734.2 1090.8,2732.3 1094.6,2746.4 1098.3,2744.5 1103,2740.7 1107.7,2743.6 1112.4,2750.1 1115.2,2759.5 1119.9,2774.5 1125.6,2772.6 1130.2,2765.1 1138.7,2760.4" fill="none" stroke="#0000ff" stroke-width="3.5" stroke-linejoin="round"/>
<path d="M567.3 2854.3h28.8M581.7 2839.9v28.8M571.1 2843.7l21.2 21.2M571.1 2864.9l21.2 -21.2M722.1 2689.7h28.8M736.5 2675.3v28.8M725.9 2679.1l21.2 21.2M725.9 2700.3l21.2 -21.2M797.7 2841.1h28.8M812.1 2826.7v28.8M801.5 2830.5l21.2 21.2M801.5 2851.7l21.2 -21.2M873.8 2742.1h28.8M888.2 2727.7v28.8M877.6 2731.5l21.2 21.2M877.6 2752.7l21.2 -21.2M949.4 2733.8h28.8M963.8 2719.4v28.8M953.2 2723.2l21.2 21.2M953.2 2744.4l21.2 -21.2M1024.5 2750.7h28.8M1038.9 2736.3v28.8M1028.3 2740.1l21.2 21.2M1028.3 2761.3l21.2 -21.2M1100.5 2769.8h28.8M1114.9 2755.4v28.8M1104.3 2759.2l21.2 21.2M1104.3 2780.4l21.2 -21.2" stroke="#000" stroke-width="3.9" fill="none"/>
<clipPath id="clipf"><rect x="1340.5" y="2471.5" width="611.9" height="554.9"/></clipPath>
<polyline clip-path="url(#clipf)" points="1340.9,2920.2 1344.7,2909 1348.4,2905.2 1354.1,2924 1357.8,2907.1 1361.6,2901.5 1367.2,2903.4 1371,2895.8 1374.7,2892.1 1378.5,2895.8 1381.3,2907.1 1386,2914.6 1389.7,2906.2 1393.5,2906.2 1398.2,2920.2 1402.9,2916.5 1406.6,2901.5 1411.3,2897.7 1415.1,2896.8 1419.8,2890.2 1423.5,2893 1426.3,2884.6 1431,2879.9 1434.8,2892.1 1439.5,2867.7 1443.2,2894 1447.9,2871.5 1452.6,2863.9 1456.3,2888.3 1459.2,2828.3 1463.9,2863.9 1467.6,2826.4 1472.3,2824.5 1477,2813.3 1479.8,2801.1 1484.5,2795.5 1488.2,2785.1 1492,2773.9 1497.6,2764.5 1503.3,2755.1 1508.9,2745.7 1512.6,2742 1516.4,2732.6 1522,2726 1527.7,2718.5 1533.3,2711.9 1537,2710.1 1541.7,2702.6 1546.4,2698.8 1551.1,2694.1 1557.7,2692.2 1565.2,2687.6 1572.7,2685.7 1580.2,2686.1 1587.7,2689.4 1595.2,2693.2 1602.7,2698.8 1610.2,2706.3 1617.7,2713.8 1625.2,2721.3 1632.7,2727.9 1640.2,2734.5 1645,2734.8 1650.6,2734.8 1656.3,2733.5 1663.8,2732.6 1671.3,2732.6 1680.7,2733.5 1685.3,2740.1 1691,2747.6 1695.7,2757 1699.4,2766.4 1703.2,2781.4 1706.9,2796.4 1709.7,2809.5 1714.4,2820.8 1719.1,2831.1 1723.8,2824.5 1727.6,2811.4 1732.3,2805.8 1736,2792.6 1739.8,2781.4 1743.5,2768.2 1747.3,2755.1 1752,2743.9 1755.7,2732.6 1761.3,2726 1767,2720.4 1774.5,2719.5 1780.1,2723.2 1784.8,2732.6 1789.5,2743.9 1793.2,2758.9 1797,2773.9 1800.8,2788.9 1804.5,2802 1810.1,2807.7 1814.8,2811.4 1819.5,2818.9 1821.4,2826.4 1825.1,2818.9 1832.7,2818.9 1835.5,2805.8 1838.3,2792.6 1841.1,2785.1 1844.8,2788.9 1847.7,2779.5 1853.3,2772 1857,2766.4 1862.7,2764.5 1868.3,2768.2 1873.9,2772 1879.6,2773.9 1885.2,2775.8 1888.9,2781.4 1894.6,2788.9 1899.3,2796.4 1903,2807.7 1906.8,2815.2 1910.5,2822.7 1914.3,2847.1 1919,2835.8 1924.6,2833 1930.2,2826.4 1934,2825.5 1937.7,2831.1 1941.5,2826.4 1945.2,2811.4 1949,2806.7 1953.7,2807.7" fill="none" stroke="#ff0000" stroke-width="3.5" stroke-linejoin="round"/>
<polyline clip-path="url(#clipf)" points="1340.9,2895.8 1345.6,2909 1350.3,2890.2 1354.1,2894 1358.8,2897.7 1363.5,2895.8 1368.1,2896.8 1373.8,2899.6 1378.5,2903.4 1382.2,2892.1 1387.9,2893 1392.5,2896.8 1398.2,2899.6 1402.9,2896.8 1407.6,2895.8 1411.3,2899.6 1415.1,2900.5 1419.8,2894 1423.5,2901.5 1427.3,2915.6 1431,2905.2 1435.7,2894 1439.5,2902.4 1443.2,2903.4 1447.9,2910.9 1452.6,2907.1 1457.3,2902.4 1460.1,2906.2 1463.9,2913.7 1467.6,2904.3 1471.4,2910.9 1477,2913.7 1484.5,2913.7 1488.2,2901.5 1492,2904.3 1495.8,2897.7 1501.4,2896.8 1505.1,2892.1 1508.9,2886.5 1512.6,2879.9 1517.3,2881.8 1521.1,2876.1 1524.8,2870.5 1529.5,2864.9 1532.3,2847.1 1537,2846.1 1541.7,2836.7 1545.5,2826.4 1549.2,2817 1553,2805.8 1557.7,2800.1 1561.4,2785.1 1565.2,2775.8 1569.9,2768.2 1574.6,2758.9 1578.3,2749.5 1583.9,2740.1 1589.6,2730.7 1595.2,2722.3 1600.8,2715.7 1605.5,2707.3 1612.1,2700.7 1617.7,2694.1 1625.2,2686.6 1632.7,2681.9 1640.2,2678.2 1645,2677.2 1652.5,2676.3 1660,2680 1667.5,2683.8 1673.1,2689.4 1678.8,2695.1 1684.4,2704.4 1690,2715.7 1695.7,2728.8 1700.4,2743.9 1705,2760.7 1709.7,2775.8 1714.4,2788.9 1720.1,2803.9 1723.8,2817 1728.5,2818 1734.1,2815.2 1740.7,2809.5 1746.3,2798.3 1751,2785.1 1755.7,2773.9 1761.3,2768.2 1767.9,2762.6 1775.4,2757.9 1783.9,2759.8 1791.4,2762.6 1798.9,2764.5 1806.4,2761.7 1813.9,2763.6 1821.4,2760.7 1828.9,2761.7 1832.7,2761.7 1838.3,2764.5 1843.9,2768.2 1848.6,2777.6 1852.4,2785.1 1858,2790.8 1862.7,2796.4 1868.3,2801.1 1874.9,2800.1 1880.5,2796.4 1885.2,2788.9 1889.9,2780.4 1897.4,2772.9 1902.1,2764.5 1905.8,2757 1909.6,2749.5 1917.1,2744.8 1920.8,2749.5 1926.5,2755.1 1931.2,2762.6 1934.9,2770.1 1938.7,2787 1942.4,2802 1947.1,2790.8 1952.8,2783.3" fill="none" stroke="#0000ff" stroke-width="3.5" stroke-linejoin="round"/>
<path d="M1391.7 2876.7h28.8M1406.1 2862.3v28.8M1395.5 2866.1l21.2 21.2M1395.5 2887.3l21.2 -21.2M1474.4 2757h28.8M1488.8 2742.6v28.8M1478.2 2746.4l21.2 21.2M1478.2 2767.6l21.2 -21.2M1556 2682.9h28.8M1570.4 2668.5v28.8M1559.8 2672.3l21.2 21.2M1559.8 2693.5l21.2 -21.2M1637.7 2807.3h28.8M1652.1 2792.9v28.8M1641.5 2796.7l21.2 21.2M1641.5 2817.9l21.2 -21.2M1719.7 2765.4h28.8M1734.1 2751v28.8M1723.5 2754.8l21.2 21.2M1723.5 2776l21.2 -21.2M1801.4 2815.2h28.8M1815.8 2800.8v28.8M1805.2 2804.6l21.2 21.2M1805.2 2825.8l21.2 -21.2M1880.6 2856.8h28.8M1895 2842.4v28.8M1884.4 2846.2l21.2 21.2M1884.4 2867.4l21.2 -21.2" stroke="#000" stroke-width="3.9" fill="none"/>
<rect x="294" y="1020" width="801.8" height="291.3" fill="#fff" stroke="#262626" stroke-width="3.8"/>
<line x1="310" y1="1074" x2="485" y2="1074" stroke="#ff0000" stroke-width="4"/>
<line x1="310" y1="1165.6" x2="485" y2="1165.6" stroke="#0000ff" stroke-width="4"/>
<path d="M380.2 1258.4h35.6M398 1240.6v35.6M386.2 1246.6l23.6 23.6M386.2 1270.2l23.6 -23.6" stroke="#000" stroke-width="4.5" fill="none"/>
<text x="496.5" y="1101" font-size="70" fill="#000">range dependent</text>
<text x="496.5" y="1192.6" font-size="70" fill="#000">range independent</text>
<text x="496.5" y="1282.6" font-size="70" fill="#000">experimental data</text>
</svg></body></html>
